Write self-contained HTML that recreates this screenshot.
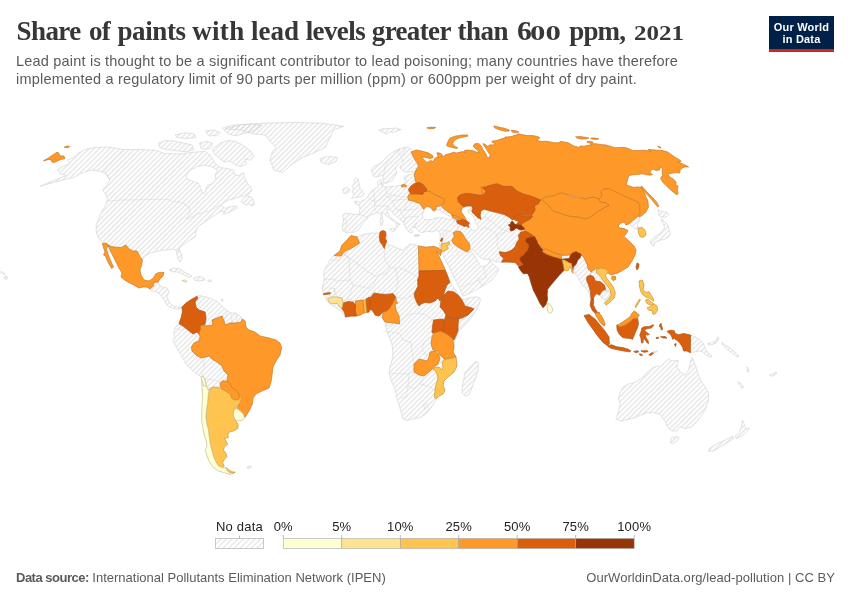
<!DOCTYPE html>
<html><head><meta charset="utf-8">
<style>
html,body{margin:0;padding:0;background:#fff;}
body{width:850px;height:600px;position:relative;overflow:hidden;font-family:"Liberation Sans",sans-serif;}
.abs{position:absolute;white-space:nowrap;}
#title{position:absolute;left:16.5px;top:16.45px;white-space:nowrap;font-size:0;font-family:"Liberation Serif",serif;font-weight:bold;color:#373737;}
#title>span{display:inline-block;white-space:nowrap;line-height:30px;text-align:left;}
#sub{left:16px;top:52px;font-size:14.5px;line-height:18px;color:#5b5b5b;letter-spacing:0.2px;}
#logo{left:769px;top:16px;width:65px;height:33px;background:#002147;border-bottom:3px solid #ce261e;color:#fff;font-weight:bold;font-size:11px;line-height:12px;text-align:center;letter-spacing:0.2px;}
#logo div{margin-top:5px;}
#src{left:16px;top:570px;font-size:13px;line-height:16px;color:#5b5b5b;letter-spacing:0px;}
#src b{letter-spacing:-0.5px;}
#lic{right:15px;top:570px;font-size:13px;line-height:16px;color:#5b5b5b;letter-spacing:0.05px;}
svg{position:absolute;left:0;top:0;}
svg text{font-family:"Liberation Sans",sans-serif;font-size:13px;fill:#222;letter-spacing:0.2px;}
</style></head><body>
<div id="title"><span style="width:72.40px;font-size:27px;letter-spacing:-0.57px">Share</span> <span style="width:28.60px;font-size:27px;letter-spacing:-0.70px">of</span> <span style="width:74.70px;font-size:27px;letter-spacing:-0.41px">paints</span> <span style="width:58.90px;font-size:27px;letter-spacing:0.33px">with</span> <span style="width:54.60px;font-size:27px;letter-spacing:-0.03px">lead</span> <span style="width:66.10px;font-size:27px;letter-spacing:-0.60px">levels</span> <span style="width:85.70px;font-size:27px;letter-spacing:-0.62px">greater</span> <span style="width:59.80px;font-size:27px;letter-spacing:-0.50px">than</span> <span style="width:52.00px;font-size:27px"><span style="display:inline-block;transform:scaleX(1.1);transform-origin:0 100%">6</span><span style="display:inline-block;font-size:20.5px;margin-left:-0.5px;transform:scaleX(1.5);transform-origin:0 100%">00</span></span> <span style="width:64.70px;font-size:27px;letter-spacing:-0.83px">ppm,</span> <span style="width:60.00px;font-size:20.5px;transform:scaleX(1.22);transform-origin:0 100%">2021</span></div>
<div id="sub" class="abs">Lead paint is thought to be a significant contributor to lead poisoning; many countries have therefore<br>implemented a regulatory limit of 90 parts per million (ppm) or 600ppm per weight of dry paint.</div>
<div id="logo" class="abs"><div>Our World<br>in Data</div></div>
<svg width="850" height="600" viewBox="0 0 850 600">
<defs>
<pattern id="hatch" patternUnits="userSpaceOnUse" width="4" height="4" patternTransform="rotate(-45 2 2)"><path d="M -1,2 l 6,0" stroke="#d2d2d2" stroke-width="0.9"/></pattern>
<pattern id="hatchL" patternUnits="userSpaceOnUse" width="17" height="17" x="0.5" y="0"><rect width="17" height="17" fill="#fff"/><g stroke="#d2d2d2" stroke-width="1.0"><line x1="1" y1="-1" x2="-1" y2="1"/><line x1="6.66667" y1="-1" x2="-1" y2="6.66667"/><line x1="12.3333" y1="-1" x2="-1" y2="12.3333"/><line x1="18" y1="-1" x2="-1" y2="18"/><line x1="23.6667" y1="-1" x2="-1" y2="23.6667"/><line x1="29.3333" y1="-1" x2="-1" y2="29.3333"/><line x1="35" y1="-1" x2="-1" y2="35"/></g></pattern>
</defs>
<!--MAP-->
<g transform="scale(0.9)" fill="url(#hatch)" stroke="#d2d2d2" stroke-width="0.7" stroke-linejoin="round">
<path d="M645.6,282.4 L648.4,284.3 L650.2,289.9 L653.0,294.6 L655.8,299.2 L657.7,302.9 L654.9,304.8 L652.1,307.6 L651.8,311.2 L654.0,316.8 L655.8,322.4 L656.8,328.0 L655.8,331.7 L654.0,324.2 L650.2,318.7 L647.4,317.8 L644.7,313.1 L641.9,307.6 L639.1,303.8 L637.2,300.1 L640.0,293.7 L641.9,289.0 L644.7,286.2Z"/>
<path d="M657.7,302.9 L660.4,302.0 L663.2,303.8 L665.1,307.6 L668.8,311.2 L672.6,315.0 L674.3,319.6 L676.2,323.3 L672.6,324.2 L672.9,321.4 L671.6,316.8 L667.0,313.1 L661.3,312.2 L659.6,307.6 L655.8,305.7Z"/>
<path d="M668.8,323.3 L672.9,322.4 L677.1,323.3 L678.1,328.0 L675.3,331.7 L671.6,333.6 L667.9,330.8 L666.6,327.0Z"/>
<path d="M625.8,284.0 L628.9,283.0 L632.7,284.0 L632.7,286.8 L626.1,287.1Z"/>
<path d="M726.1,392.4 L724.7,391.7 L728.0,390.3 L730.9,390.0 L728.9,391.7Z"/>
<path d="M767.3,372.3 L772.6,374.2 L778.1,377.9 L781.8,381.7 L782.8,386.2 L785.6,390.9 L791.1,395.6 L790.1,396.9 L784.6,394.7 L780.9,390.9 L777.1,390.0 L772.6,390.9 L767.0,391.9Z"/>
<path d="M786.4,381.7 L791.1,380.7 L795.8,377.9 L797.6,374.2 L798.9,376.4 L795.8,380.7 L791.1,383.1 L787.3,383.1Z"/>
<path d="M390.0,261.8 L385.6,266.7 L380.0,272.2 L377.8,278.9 L371.1,284.0 L366.7,288.9 L362.2,296.7 L359.6,303.3 L360.4,311.1 L357.8,320.0 L359.6,326.7 L362.2,332.2 L365.6,336.7 L370.0,340.0 L375.6,343.3 L380.0,346.7 L383.3,352.2 L390.0,351.6 L396.0,351.1 L400.0,350.0 L404.9,347.6 L410.0,346.7 L414.4,346.7 L418.9,351.1 L421.1,351.6 L424.9,353.3 L427.8,357.8 L428.9,362.2 L430.0,368.9 L433.3,376.7 L435.6,383.3 L436.7,392.2 L435.6,400.0 L433.3,407.8 L432.2,414.4 L434.4,422.2 L438.9,432.2 L441.1,442.2 L443.3,450.0 L445.6,457.8 L447.8,465.6 L452.2,467.1 L458.9,465.6 L466.7,464.0 L473.3,460.0 L478.9,453.3 L483.3,446.7 L484.4,443.3 L487.8,440.0 L492.2,437.8 L494.4,433.3 L492.2,428.9 L493.3,423.3 L497.8,418.9 L504.4,413.3 L507.8,406.7 L506.7,396.7 L503.3,391.1 L504.4,385.6 L505.6,377.8 L509.3,368.9 L513.3,364.4 L520.0,357.8 L522.3,354.9 L528.9,345.6 L532.6,338.1 L533.9,331.7 L530.7,329.8 L522.3,330.8 L515.9,332.6 L513.1,331.7 L510.6,328.3 L507.8,324.4 L504.4,320.0 L501.3,315.6 L500.0,313.9 L499.4,312.2 L497.8,307.8 L496.1,303.3 L495.0,300.6 L493.3,296.7 L490.6,290.6 L487.8,285.0 L484.9,279.6 L486.7,280.4 L489.3,284.0 L490.7,278.9 L487.8,276.0 L482.2,273.8 L473.3,274.7 L464.9,273.3 L460.0,271.6 L455.6,271.1 L452.2,273.8 L447.8,277.8 L442.2,276.0 L436.7,273.3 L432.2,271.6 L428.9,268.9 L430.0,264.4 L428.9,257.8 L425.6,256.7 L422.2,258.9 L411.1,258.9 L402.2,261.1 L396.7,263.3Z"/>
<path d="M528.9,401.1 L531.6,403.3 L531.1,411.1 L527.8,422.2 L524.4,431.1 L521.1,438.9 L516.7,440.0 L513.3,436.7 L513.8,428.9 L515.6,420.0 L516.7,413.3 L521.1,408.9 L525.6,404.4Z"/>
<path d="M461.1,192.6 L457.4,193.6 L453.7,194.4 L450.0,196.3 L448.7,198.7 L450.0,200.4 L451.9,200.0 L452.3,201.9 L450.0,202.8 L448.1,204.7 L446.3,205.6 L442.6,206.4 L438.0,206.9 L433.3,207.4 L429.7,207.9 L426.9,207.4 L424.1,206.0 L423.6,203.7 L424.1,200.9 L422.7,199.6 L420.3,200.9 L419.4,203.7 L420.3,206.0 L419.4,208.3 L416.7,209.8 L413.9,211.1 L413.9,211.1 L411.1,214.4 L409.4,217.2 L408.3,218.9 L405.6,221.7 L401.7,223.3 L400.0,225.0 L396.7,223.3 L393.3,223.9 L394.4,226.1 L398.3,227.8 L400.0,231.1 L399.4,234.4 L398.9,238.3 L391.1,237.8 L384.4,236.9 L381.7,237.8 L380.6,240.6 L381.7,243.3 L381.1,247.8 L380.0,252.2 L380.6,256.1 L383.3,257.8 L386.7,258.9 L388.9,257.8 L392.2,258.3 L396.7,256.7 L400.0,253.3 L401.7,250.0 L404.4,247.2 L407.8,243.9 L408.9,241.1 L412.2,238.9 L415.6,237.8 L418.3,236.1 L420.0,237.2 L422.2,236.7 L425.0,236.1 L427.8,238.3 L431.1,241.1 L435.0,243.9 L437.8,246.1 L440.6,248.9 L440.0,251.1 L441.1,252.8 L442.8,250.6 L441.7,248.3 L443.6,249.4 L444.7,249.1 L442.0,247.6 L438.7,245.3 L435.1,242.4 L432.0,238.9 L430.2,235.6 L430.0,232.8 L432.2,232.2 L434.4,233.9 L436.7,236.7 L440.0,240.0 L443.3,242.8 L446.7,245.6 L448.9,248.3 L450.0,251.1 L451.1,254.4 L454.4,257.8 L457.8,258.9 L458.3,256.1 L456.1,253.9 L457.8,252.2 L460.6,253.3 L460.0,250.0 L462.2,248.3 L463.3,247.8 L462.2,249.2 L461.7,253.0 L465.0,256.7 L468.8,258.6 L474.3,256.7 L479.9,257.7 L485.4,255.8 L488.8,257.7 L489.1,263.2 L488.8,268.8 L488.2,274.3 L487.8,276.0 L490.7,278.9 L490.6,280.0 L492.8,284.4 L495.6,290.0 L498.9,296.1 L501.7,302.2 L504.4,308.3 L507.8,314.4 L510.6,320.0 L512.8,325.6 L514.4,328.9 L516.7,328.3 L521.1,326.1 L527.8,322.8 L534.4,318.9 L541.1,315.0 L546.7,311.1 L550.0,306.7 L552.8,302.2 L554.2,299.4 L552.2,296.7 L548.9,294.4 L546.1,291.7 L544.4,288.9 L543.3,291.7 L541.1,294.4 L537.8,296.1 L534.4,296.7 L533.3,294.4 L531.7,291.7 L530.0,288.9 L527.8,285.6 L525.6,282.2 L523.3,279.4 L522.2,277.8 L524.4,277.2 L527.8,280.0 L531.1,283.3 L534.4,286.7 L538.9,288.3 L543.3,287.8 L546.7,288.9 L550.0,290.6 L554.4,291.1 L557.8,291.7 L572.2,283.3 L583.3,275.6 L591.1,264.4 L590.0,250.0 L590.0,235.6 L577.8,222.2 L500.0,211.1 L466.7,197.8Z M469.3,241.2 L469.9,236.6 L471.9,232.7 L473.9,230.1 L475.8,230.1 L478.7,232.0 L481.0,234.0 L483.0,235.3 L485.0,233.3 L487.6,233.3 L489.6,234.7 L493.4,236.6 L498.0,239.2 L502.0,242.4 L505.9,244.4 L507.2,245.3 L503.2,244.4 L499.3,243.8 L494.1,242.4 L488.9,241.8 L483.7,242.4 L479.8,243.8 L475.1,244.4 L471.9,243.8Z M483.7,230.1 L486.2,228.8 L490.2,228.1 L491.6,229.4 L489.6,232.0 L486.2,232.7 L484.3,232.0Z M512.4,234.0 L514.3,231.3 L518.3,229.4 L522.9,228.8 L524.9,230.1 L523.6,232.0 L520.9,232.7 L519.6,235.3 L522.2,237.2 L524.9,239.2 L526.8,242.4 L528.1,245.1 L529.4,249.0 L531.3,251.7 L530.7,254.2 L528.1,256.2 L524.2,255.6 L522.9,252.9 L522.2,249.7 L521.6,246.4 L519.0,243.8 L516.3,240.6 L513.8,237.2Z" fill-rule="evenodd"/>
<path d="M457.4,165.8 L453.7,163.4 L449.1,163.9 L444.4,165.3 L439.8,167.1 L435.2,169.9 L431.4,172.7 L427.8,176.4 L424.1,180.1 L419.4,183.3 L414.8,185.2 L412.8,187.6 L413.4,191.7 L414.8,195.3 L417.6,196.8 L421.3,195.8 L424.1,194.9 L425.4,196.3 L425.4,199.1 L426.4,201.9 L427.8,203.7 L430.1,203.2 L433.3,201.9 L436.1,200.0 L437.6,197.2 L440.2,193.6 L441.2,191.2 L439.3,188.0 L440.2,185.2 L442.6,182.4 L444.9,180.1 L446.8,178.2 L448.1,178.7 L447.7,181.0 L445.3,183.8 L444.4,186.6 L446.3,188.4 L449.1,190.2 L451.9,191.2 L455.6,190.8 L459.2,191.2 L461.1,191.7 L462.4,188.9 L464.8,185.2 L463.0,182.4 L461.6,178.7 L461.1,175.4 L458.3,172.2 L457.4,169.4Z"/>
<path d="M424.1,203.2 L426.4,202.8 L426.7,204.7 L424.6,205.1Z"/>
<path d="M420.4,144.4 L426.0,143.0 L433.4,142.7 L440.9,142.2 L445.6,144.1 L440.9,145.4 L437.2,147.2 L433.4,146.3 L429.8,149.1 L425.1,147.2Z"/>
<path d="M392.2,205.6 L394.4,202.8 L392.8,200.0 L395.6,197.8 L398.3,198.9 L397.8,201.7 L399.4,204.4 L400.0,208.9 L402.8,212.2 L404.4,215.6 L402.8,217.8 L398.9,218.9 L394.4,219.4 L390.6,220.6 L392.2,217.8 L393.3,215.0 L391.1,213.3 L392.8,210.6 L391.1,207.8Z"/>
<path d="M381.1,210.0 L385.6,208.3 L388.3,210.0 L387.8,213.3 L384.4,215.0 L381.1,214.4Z"/>
<path d="M432.8,254.4 L436.7,253.9 L440.0,253.3 L439.4,255.6 L437.2,257.2 L433.9,256.1Z"/>
<path d="M422.8,242.2 L425.0,241.7 L425.6,245.6 L425.0,250.0 L423.1,250.6 L422.2,246.7Z"/>
<path d="M423.1,237.8 L424.4,237.2 L424.7,240.6 L423.6,241.1Z"/>
<path d="M460.1,261.8 L462.8,261.2 L465.3,260.8 L464.0,262.3 L461.4,262.9Z"/>
<path d="M460.0,261.3 L463.3,260.9 L466.7,261.4 L465.0,262.4 L461.7,262.4Z"/>
<path d="M250.0,143.1 L269.4,138.3 L297.2,136.7 L325.0,136.1 L355.6,136.7 L382.0,140.2 L370.9,144.4 L366.7,152.8 L361.1,163.9 L350.0,169.4 L336.1,175.0 L325.0,182.0 L313.9,191.7 L304.2,188.9 L300.0,177.8 L302.8,168.0 L306.9,163.9 L301.3,158.3 L294.4,150.0 L280.6,148.7 L266.7,144.4Z"/>
<path d="M355.6,176.4 L363.9,173.6 L375.0,175.0 L373.6,179.1 L365.3,182.8 L356.9,180.6Z"/>
<path d="M684.3,465.9 L687.1,457.6 L689.0,448.3 L687.1,442.8 L689.0,436.2 L691.8,430.7 L697.3,427.0 L704.8,425.1 L711.2,421.3 L715.9,417.7 L719.6,413.0 L725.1,408.4 L730.8,406.6 L734.4,407.4 L738.1,402.8 L742.8,399.1 L746.6,401.0 L753.9,400.4 L752.1,407.4 L755.8,413.0 L761.3,416.8 L765.1,411.2 L766.9,402.8 L769.1,397.2 L771.0,401.9 L773.4,407.4 L775.3,414.9 L779.0,423.2 L783.7,429.8 L787.3,437.1 L787.0,446.4 L783.7,454.8 L779.9,461.3 L774.3,468.7 L768.8,474.3 L761.3,476.1 L755.8,474.3 L752.1,478.9 L746.6,478.9 L741.9,475.2 L740.0,469.7 L737.2,465.9 L733.6,460.3 L727.0,458.6 L718.7,458.6 L711.2,461.3 L705.7,464.1 L698.2,465.9 L690.8,467.8Z"/>
<path d="M746.1,486.3 L753.0,485.0 L754.9,486.3 L752.1,490.1 L747.4,492.9 L744.7,491.9Z"/>
<path d="M825.0,466.9 L826.9,471.0 L828.6,476.4 L832.7,475.9 L829.1,480.6 L823.7,484.7 L818.1,487.4 L816.8,484.7 L820.9,480.6 L823.7,475.1Z"/>
<path d="M814.0,484.7 L815.4,487.4 L808.6,491.6 L801.7,495.7 L793.4,500.7 L787.4,501.7 L788.0,498.4 L796.2,493.4 L805.8,488.8Z"/>
<path d="M819.6,424.3 L822.2,424.9 L826.4,430.3 L824.2,431.4Z"/>
<path d="M855.2,416.7 L858.0,415.6 L862.1,413.3 L863.4,414.7 L858.0,418.2Z"/>
<path d="M829.7,408.3 L831.3,408.3 L831.9,413.3 L830.6,413.3Z"/>
<path d="M801.7,380.4 L805.8,383.1 L811.3,386.4 L816.8,391.3 L820.9,395.4 L819.6,396.9 L814.0,392.8 L808.6,388.7 L803.1,383.7Z"/>
<path d="M700.0,248.3 L703.3,245.0 L707.2,242.8 L710.6,241.7 L711.1,243.9 L710.0,246.7 L708.3,249.4 L708.9,252.2 L707.2,254.4 L704.4,253.9 L702.2,251.7Z"/>
<path d="M137.6,166.1 L119.4,163.3 L105.6,163.9 L94.4,166.1 L86.1,170.9 L82.0,175.0 L75.0,177.8 L77.8,182.0 L69.4,184.7 L63.9,188.9 L66.7,193.1 L73.6,195.0 L44.4,206.9 L75.0,198.7 L82.0,197.2 L88.9,193.1 L101.3,188.9 L111.1,190.2 L118.0,193.1 L122.2,200.0 L118.0,206.9 L113.9,211.1 L118.0,216.7 L119.4,222.2 L116.7,229.1 L111.1,238.9 L106.9,250.0 L106.9,258.3 L109.8,265.3 L114.4,270.0 L133.3,283.3 L158.2,288.9 L161.1,284.4 L166.7,281.1 L175.6,278.9 L184.4,277.8 L191.1,276.7 L195.6,277.8 L197.3,286.7 L199.6,291.1 L202.2,287.8 L201.8,282.2 L198.9,276.7 L197.2,279.9 L200.0,275.2 L205.6,270.6 L211.1,266.9 L216.8,263.1 L217.7,257.6 L219.6,252.0 L225.1,248.3 L230.7,244.6 L234.3,241.8 L239.0,239.0 L244.6,235.3 L249.2,234.4 L248.3,238.1 L253.9,236.2 L259.4,233.4 L264.1,230.7 L262.2,228.8 L255.7,229.8 L250.1,231.6 L246.4,228.8 L245.6,227.9 L249.2,225.1 L253.9,222.3 L258.4,221.4 L263.1,219.6 L270.6,217.7 L276.1,215.8 L279.9,212.1 L278.9,208.4 L275.2,203.8 L271.4,196.3 L270.6,191.7 L265.0,195.4 L260.3,193.6 L259.4,188.9 L252.0,187.1 L244.6,186.1 L238.9,181.1 L233.3,172.2 L227.8,168.3 L216.7,168.9 L200.0,171.1 L183.3,170.6 L173.3,167.2 L155.6,166.1Z M206.6,195.4 L210.2,189.9 L218.6,185.2 L227.9,183.3 L237.1,186.1 L241.8,188.9 L239.0,194.4 L239.9,199.1 L236.2,203.8 L230.7,205.7 L228.8,210.2 L226.9,214.9 L224.1,214.0 L223.2,207.4 L220.4,203.8 L213.0,201.0 L208.3,199.1Z" fill-rule="evenodd"/>
<path d="M267.8,224.2 L271.4,219.6 L275.2,217.7 L278.9,218.7 L281.7,222.3 L282.7,227.0 L279.9,228.8 L276.1,227.0 L273.3,227.9 L270.6,226.0Z"/>
<path d="M236.4,165.4 L244.9,159.1 L253.2,156.0 L261.6,157.1 L269.9,161.2 L278.3,167.6 L282.4,173.8 L278.3,178.0 L272.0,176.9 L274.1,182.1 L267.9,185.3 L261.6,183.2 L255.3,179.0 L249.0,180.1 L242.8,174.9 L237.6,170.7Z"/>
<path d="M246.9,142.4 L257.3,139.3 L269.9,138.2 L282.4,137.8 L290.9,139.3 L286.7,143.4 L278.3,146.6 L269.9,148.7 L261.6,150.8 L253.2,148.7Z"/>
<path d="M175.8,159.1 L184.2,156.0 L194.7,157.1 L205.1,159.1 L213.4,161.2 L215.6,166.4 L207.2,168.6 L196.8,167.6 L186.2,166.4 L177.9,164.3Z"/>
<path d="M194.7,149.8 L205.1,147.7 L215.6,148.7 L217.7,152.9 L207.2,153.9 L196.8,152.9Z"/>
<path d="M221.8,159.1 L230.2,157.1 L236.4,159.1 L234.3,164.3 L228.1,166.4 L222.9,164.3Z"/>
<path d="M228.1,145.6 L238.6,144.6 L244.9,147.7 L240.7,150.8 L232.3,150.8Z"/>
<path d="M166.7,321.1 L171.1,317.8 L170.7,313.8 L175.6,313.3 L178.9,318.9 L185.6,320.0 L187.8,324.4 L185.6,330.0 L187.8,335.6 L192.2,340.0 L197.8,341.1 L202.2,341.1 L201.1,343.3 L195.6,343.3 L190.0,342.2 L185.6,338.9 L182.2,333.3 L177.8,326.7 L173.3,324.4 L168.9,323.3Z"/>
<path d="M187.8,300.0 L193.3,297.8 L200.0,298.9 L206.7,303.3 L213.3,306.7 L211.1,308.4 L204.4,305.6 L197.8,302.2 L191.1,301.8Z"/>
<path d="M215.6,308.9 L221.1,307.1 L226.7,308.9 L227.8,311.1 L222.2,312.2 L216.7,311.6Z"/>
<path d="M231.1,311.1 L234.7,311.1 L234.7,312.7 L231.1,312.7Z"/>
<path d="M198.9,360.0 L194.4,364.4 L192.9,370.0 L194.4,374.4 L192.2,378.9 L195.6,385.6 L201.1,394.4 L206.7,404.4 L214.4,412.2 L223.3,418.9 L225.6,417.8 L227.8,422.2 L230.0,431.1 L232.2,431.1 L236.7,430.0 L244.4,431.1 L244.4,424.4 L248.9,422.2 L254.4,423.3 L254.4,422.2 L253.3,416.7 L248.9,412.2 L246.7,406.7 L241.1,402.2 L235.6,398.9 L232.2,395.6 L227.8,396.7 L223.3,397.8 L217.8,394.4 L213.3,390.0 L212.9,385.6 L215.6,381.1 L221.1,378.9 L221.1,376.7 L217.8,372.2 L213.3,370.0 L208.9,366.7 L203.3,363.3Z"/>
<path d="M217.3,328.9 L222.2,328.4 L228.9,330.0 L237.8,333.3 L242.2,335.6 L246.7,340.0 L251.1,344.4 L256.7,347.8 L262.2,347.8 L266.7,351.1 L269.3,354.4 L267.8,357.8 L262.2,358.9 L255.6,358.9 L250.0,361.1 L248.9,356.7 L246.7,351.1 L241.1,353.3 L235.6,355.6 L236.7,361.1 L230.0,362.2 L227.8,361.1 L228.9,355.6 L227.8,347.8 L221.1,346.7 L216.7,343.3 L214.4,337.8 L215.1,334.4 L217.8,331.1Z"/>
<path d="M245.6,332.9 L247.8,332.7 L247.8,334.4 L245.8,334.4Z"/>
<path d="M274.3,518.8 L278.0,517.8 L279.9,519.1 L277.1,520.6 L274.7,520.2Z"/>
<path d="M731.1,232.8 L735.6,235.0 L740.0,235.6 L743.6,237.8 L741.1,240.6 L737.8,241.7 L734.4,240.6 L731.7,238.9Z"/>
<path d="M735.0,242.8 L737.8,245.6 L741.1,248.9 L742.8,252.2 L743.3,255.0 L745.0,260.0 L743.3,263.3 L738.9,265.6 L734.4,266.7 L730.0,268.3 L727.2,270.0 L726.7,273.3 L724.4,272.8 L722.2,268.9 L724.4,265.6 L728.3,262.8 L732.8,259.4 L736.7,256.1 L738.3,252.2 L736.7,248.3 L735.0,245.6Z"/>
<path d="M5.6,306.7 L7.8,307.2 L8.3,309.4 L6.1,310.6 L5.0,308.9Z"/>
<path d="M1.1,301.7 L2.8,302.2 L2.2,303.3 L0.9,302.9Z"/>
<path d="M3.6,303.3 L5.6,304.0 L5.1,305.1 L3.3,304.4Z"/>
</g>
<g fill="none" stroke="#d4d4d4" stroke-width="0.5">
<path d="M107.5,200 L111,201 L120,200 L140,199.8 L160,199.2 L169,199.5 L172,201.5 L180,202 L185,204 L189,208 L190,212 L188,216 L186,219 L190,218 L195,215.1 L203.4,212.6 L211.8,210.1 L218.4,205.9 L221,205.1"/>
<path d="M123.8,149.5 L103.8,171.2 L106,174 L110,180"/>
<path d="M359.6,243 L355,246 L350,249 L345,251 L345,255 L359,265 L370,273 L377,277 L378,275 L386,273 L390,267 L396,269"/>
<path d="M385,249 L384,256 L386,262 L390,267"/>
<path d="M396,269 L399,267 L418,277 L418,286"/>
<path d="M330,260 L340,260 L340,256 L345,255 L349,258 L350,280 L336,281 L333,279 L324.4,280"/>
<path d="M350,280 L353,285 L358,286 L366,288 L370,288 L374,284 L377,277"/>
<path d="M396,269 L398,280 L396,290 L393,293.6"/>
<path d="M395.6,297 L404,299 L410,296 L415,298"/>
<path d="M322,288 L330,288 L334,288 L335,294 L331,297"/>
<path d="M399.6,324 L404,318 L410,314 L418,313 L424,314 L430,318 L433.6,320"/>
<path d="M343,303 L348,299 L355.6,301 L362.4,300 L366,299 L370,298"/>
<path d="M353,285 L348,299"/>
<path d="M334,288 L337,297"/>
<path d="M383,331 L392,332 L400,334 L403,340 L411,342 L412,352 L414,364"/>
<path d="M390,373 L406,374 L414,372.4"/>
<path d="M409,374 L408,386 L406,397 L401,398.4"/>
<path d="M408,386 L414,389 L420,384 L424,376.4"/>
<path d="M420,384 L428,386 L435,390"/>
<path d="M384,326 L392,325 L398,320"/>
<path d="M423.6,405 L427,404 L428,407 L425,409 L423.6,405"/>
<path d="M429,357 L422,350 L424,342 L429,338 L432,337"/>
<path d="M175,328 L181,330 L186,328 L188,330"/>
<path d="M201,377 L203,370 L205,366 L203,360 L205,357"/>
<path d="M205,380 L210,379 L214,380 L220,382"/>
<path d="M224,321 L227,314 L226,310"/>
<path d="M231,313 L232,322 L230,323"/>
<path d="M236,313 L237,322.4"/>
<path d="M359,214.5 L368,217"/>
<path d="M343.5,219 L346,219.5 L346.5,225 L345.5,229 L345,232"/>
<path d="M367.5,197 L371,200 L374.5,201.5 L375,205 L374,208 L375.5,210.5 L376.5,212.5"/>
<path d="M386,187 L386.5,193 L384,195 L388,197 L392,196"/>
<path d="M375,205 L380,206.5 L384,205.5 L389,206.5 L389,209"/>
<path d="M386.5,193 L392,195 L398,196 L402,197 L406,196"/>
<path d="M388,197 L392,201 L398,200 L404,199 L408,200 L412,204"/>
<path d="M404,210 L410,209.5 L416,209 L419,208.2"/>
<path d="M392,201 L396,209 L400,210 L404,210 L408,200"/>
<path d="M405,218 L410,217 L416,216.5 L419,217.5"/>
<path d="M374.5,201.5 L380,200 L384,195"/>
<path d="M372.5,190 L374,194 L374.5,201.5"/>
<path d="M400,210 L402,215 L405,218 L404,223.5"/>
<path d="M400,148.8 L396.7,152.5 L392.5,156.7 L387.5,162.5 L384.6,167.5 L384.2,173.3 L382.9,176.7"/>
<path d="M402.1,160.4 L401.7,156.7 L398.3,152.5 L400,148.8"/>
<path d="M404.2,147.5 L405,150.8 L401.7,156.7"/>
<path d="M441.7,230.1 L448.4,231 L453.4,232.6"/>
<path d="M457.6,223.4 L458.4,230.1 L456.7,231.8"/>
<path d="M479.3,230.1 L485.1,227.6 L491.8,230.1 L496.8,235.1 L497.7,239.3 L496.8,245.2 L500.2,250.2 L502.2,253.5 L501.8,258.5 L502.7,261.9"/>
<path d="M481,219.3 L485.1,216.8 L491.8,221.8 L498.5,226.8 L503.5,230.1 L506.8,231 L510.2,231"/>
<path d="M496.8,235.1 L503.5,232.6 L506.8,231"/>
<path d="M453.4,243.5 L457.6,246.8 L467.6,251.8 L470.1,253.5"/>
<path d="M461.8,286.8 L471.8,283.5 L478.5,280.1 L486,277.6 L484.3,271.8 L484.3,265.9"/>
<path d="M478.5,280.1 L481.8,285.1 L483.5,286"/>
<path d="M441.4,243.8 L443.4,235.1 L448.4,231"/>
<path d="M449.2,241.8 L451.7,240.2"/>
</g>
<g stroke-linejoin="round">
<path fill="#fe9929" stroke="#fe9929" stroke-width="0.6" d="M411.2,151.9 L416.2,150 L422.5,151.2 L428.8,153.1 L432.5,155.6 L433.1,157.8 L430,158.5 L425,157.2 L421.5,157.2 L423.8,159.4 L426.9,162.5 L429.4,161.2 L431.2,160.6 L433.1,161.9 L434.4,158.8 L436.9,156.9 L438.8,157.8 L437.5,155 L436.9,152.8 L440,153.1 L442.5,155 L441.2,156.9 L443.8,156.2 L445.6,154.8 L450,153.5 L453.8,152.2 L456.2,153.1 L460,152.2 L463.1,151.5 L465,152.8 L464.4,150.6 L467.5,150 L472.5,150.6 L476.2,151.9 L479.4,153.1 L477.5,150 L475,148.1 L473.1,146.2 L474.8,143.8 L478.8,143.5 L481,145.6 L482.5,148.8 L485,152.5 L487.5,157.5 L489.4,157.8 L490.2,155 L488.1,151.9 L486.2,148.8 L483.5,145 L483.1,143.5 L486.2,145 L487.5,146.5 L490,144.8 L493.1,145 L495.6,143.8 L492.5,142.5 L491.9,141.2 L496.2,140.6 L500,139.4 L503.8,138.1 L506,137.5 L505,137.2 L511.2,136.5 L516.2,135 L518.8,133.8 L522.5,134.8 L527.5,135.6 L532.5,135.6 L537.5,136.5 L540,137.8 L536.9,140 L538.8,141 L542.5,141.5 L546.2,141.2 L550,141.9 L555,142.8 L559.4,142.8 L560,141.5 L563.8,141.9 L568.1,142.8 L571.2,144.4 L573.8,146 L577.5,146.9 L579.4,147.8 L580,146 L583.8,146.2 L587.5,145.6 L590.6,145 L591.9,146.2 L592.5,144.8 L590,144 L592.5,143.5 L597.5,144 L602.5,144.8 L605,144.8 L610,146.2 L615,147.8 L620,147.5 L625,147.5 L628.8,148.8 L632.5,150.6 L637.5,150.6 L642.5,150.2 L647.5,150.6 L651.2,151.9 L648.1,149.4 L652.5,149.8 L657.5,150.2 L662.5,150.6 L667.5,151.9 L671.2,154.4 L675,157.2 L678.8,159.4 L681.2,161.2 L678.1,161.9 L682.5,163.8 L686.2,165.6 L688.5,166.9 L685,166.9 L681.9,168.1 L680,170.6 L679.8,173.1 L676.9,172.5 L672.5,173.1 L668.8,173.8 L668.1,175 L670.6,177.5 L673.8,179.4 L676.2,182.5 L675.6,184.4 L678.1,186.2 L677.2,190 L678.1,193.1 L676.9,195 L673.1,191.9 L669.4,188.8 L665.6,185 L662.5,181.9 L660.6,178.1 L662.5,175.6 L662.2,171.9 L662.5,168.8 L660.6,166.9 L659.4,170 L656.2,170.6 L653.1,169 L650.6,170.6 L650,173.1 L652.5,174.4 L650,175.2 L646.9,174.8 L642.5,173.8 L637.5,174.4 L632.5,174.8 L628.8,175.6 L627.5,180 L626.2,185 L630,186.2 L633.8,187.5 L637.5,186.9 L641.2,187.5 L642.5,190 L644.4,193.1 L646.2,197.5 L647.5,200 L648,202 L648.4,207 L646,212 L642,215.6 L639,217 L637,214 L639,211 L640,206 L638,201 L634,203 L628,200 L620,197 L614,193 L608,189 L603,189 L601,192 L602,196 L599,199 L593,197 L586,199 L578,197 L570,195 L562,193 L559,196 L550,196.4 L547,196 L541,200 L540.3,204.1 L536.9,202.4 L530.2,199.9 L523.6,198.2 L516.9,194.9 L511.9,190.4 L503.5,190.4 L496.8,187.7 L488.5,189.9 L482.6,192 L486,194.9 L485.1,198.2 L480.1,199.4 L473.4,198.2 L465.9,197.4 L460.1,199.1 L457.6,201.6 L460,204 L465,206 L462,208 L461,212 L464,216 L467,222 L464,220 L460,218 L457,219 L454,216 L448,212 L443,208 L441,205 L444,202 L443,198 L436,195 L430,192 L424,192 L427,189 L424,185 L418,182.4 L415.6,181.9 L415,178.8 L414.4,175 L415,171.9 L416.9,168.8 L418.8,166.2 L416.9,162.5 L414.4,158.8 L412.5,155Z"/><path fill="none" stroke="#6b4a2a" stroke-opacity="0.75" stroke-width="0.35" d="M411.2,151.9 L416.2,150 L422.5,151.2 L428.8,153.1 L432.5,155.6 L433.1,157.8 L430,158.5 L425,157.2 L421.5,157.2 L423.8,159.4 L426.9,162.5 L429.4,161.2 L431.2,160.6 L433.1,161.9 L434.4,158.8 L436.9,156.9 L438.8,157.8 L437.5,155 L436.9,152.8 L440,153.1 L442.5,155 L441.2,156.9 L443.8,156.2 L445.6,154.8 L450,153.5 L453.8,152.2 L456.2,153.1 L460,152.2 L463.1,151.5 L465,152.8 L464.4,150.6 L467.5,150 L472.5,150.6 L476.2,151.9 L479.4,153.1 L477.5,150 L475,148.1 L473.1,146.2 L474.8,143.8 L478.8,143.5 L481,145.6 L482.5,148.8 L485,152.5 L487.5,157.5 L489.4,157.8 L490.2,155 L488.1,151.9 L486.2,148.8 L483.5,145 L483.1,143.5 L486.2,145 L487.5,146.5 L490,144.8 L493.1,145 L495.6,143.8 L492.5,142.5 L491.9,141.2 L496.2,140.6 L500,139.4 L503.8,138.1 L506,137.5 L505,137.2 L511.2,136.5 L516.2,135 L518.8,133.8 L522.5,134.8 L527.5,135.6 L532.5,135.6 L537.5,136.5 L540,137.8 L536.9,140 L538.8,141 L542.5,141.5 L546.2,141.2 L550,141.9 L555,142.8 L559.4,142.8 L560,141.5 L563.8,141.9 L568.1,142.8 L571.2,144.4 L573.8,146 L577.5,146.9 L579.4,147.8 L580,146 L583.8,146.2 L587.5,145.6 L590.6,145 L591.9,146.2 L592.5,144.8 L590,144 L592.5,143.5 L597.5,144 L602.5,144.8 L605,144.8 L610,146.2 L615,147.8 L620,147.5 L625,147.5 L628.8,148.8 L632.5,150.6 L637.5,150.6 L642.5,150.2 L647.5,150.6 L651.2,151.9 L648.1,149.4 L652.5,149.8 L657.5,150.2 L662.5,150.6 L667.5,151.9 L671.2,154.4 L675,157.2 L678.8,159.4 L681.2,161.2 L678.1,161.9 L682.5,163.8 L686.2,165.6 L688.5,166.9 L685,166.9 L681.9,168.1 L680,170.6 L679.8,173.1 L676.9,172.5 L672.5,173.1 L668.8,173.8 L668.1,175 L670.6,177.5 L673.8,179.4 L676.2,182.5 L675.6,184.4 L678.1,186.2 L677.2,190 L678.1,193.1 L676.9,195 L673.1,191.9 L669.4,188.8 L665.6,185 L662.5,181.9 L660.6,178.1 L662.5,175.6 L662.2,171.9 L662.5,168.8 L660.6,166.9 L659.4,170 L656.2,170.6 L653.1,169 L650.6,170.6 L650,173.1 L652.5,174.4 L650,175.2 L646.9,174.8 L642.5,173.8 L637.5,174.4 L632.5,174.8 L628.8,175.6 L627.5,180 L626.2,185 L630,186.2 L633.8,187.5 L637.5,186.9 L641.2,187.5 L642.5,190 L644.4,193.1 L646.2,197.5 L647.5,200 L648,202 L648.4,207 L646,212 L642,215.6 L639,217 L637,214 L639,211 L640,206 L638,201 L634,203 L628,200 L620,197 L614,193 L608,189 L603,189 L601,192 L602,196 L599,199 L593,197 L586,199 L578,197 L570,195 L562,193 L559,196 L550,196.4 L547,196 L541,200 L540.3,204.1 L536.9,202.4 L530.2,199.9 L523.6,198.2 L516.9,194.9 L511.9,190.4 L503.5,190.4 L496.8,187.7 L488.5,189.9 L482.6,192 L486,194.9 L485.1,198.2 L480.1,199.4 L473.4,198.2 L465.9,197.4 L460.1,199.1 L457.6,201.6 L460,204 L465,206 L462,208 L461,212 L464,216 L467,222 L464,220 L460,218 L457,219 L454,216 L448,212 L443,208 L441,205 L444,202 L443,198 L436,195 L430,192 L424,192 L427,189 L424,185 L418,182.4 L415.6,181.9 L415,178.8 L414.4,175 L415,171.9 L416.9,168.8 L418.8,166.2 L416.9,162.5 L414.4,158.8 L412.5,155Z"/>
<path fill="#fe9929" stroke="#fe9929" stroke-width="0.6" d="M481,187 L488,187 L489,193 L482,193Z"/><path fill="none" stroke="#6b4a2a" stroke-opacity="0.75" stroke-width="0.35" d="M481,187 L488,187 L489,193 L482,193Z"/>
<path fill="#fe9929" stroke="#fe9929" stroke-width="0.6" d="M446.5,145.6 L448.1,141.2 L450,138.1 L455,136.2 L462.5,135 L467.5,135 L467.8,136.2 L462.5,137.2 L457.5,138.5 L454.4,140.6 L452.5,143.8 L454.4,146.2 L457.8,147.8 L456.9,148.5 L452.5,147.5 L448.8,146.5Z"/><path fill="none" stroke="#6b4a2a" stroke-opacity="0.75" stroke-width="0.35" d="M446.5,145.6 L448.1,141.2 L450,138.1 L455,136.2 L462.5,135 L467.5,135 L467.8,136.2 L462.5,137.2 L457.5,138.5 L454.4,140.6 L452.5,143.8 L454.4,146.2 L457.8,147.8 L456.9,148.5 L452.5,147.5 L448.8,146.5Z"/>
<path fill="#fe9929" stroke="#fe9929" stroke-width="0.6" d="M426.9,127.8 L431.2,127.1 L435.6,127.5 L433.8,128.5 L429.4,128.8Z"/><path fill="none" stroke="#6b4a2a" stroke-opacity="0.75" stroke-width="0.35" d="M426.9,127.8 L431.2,127.1 L435.6,127.5 L433.8,128.5 L429.4,128.8Z"/>
<path fill="#fe9929" stroke="#fe9929" stroke-width="0.6" d="M493.8,126 L497.5,126.6 L500,127.5 L503.8,128.1 L508.8,129.8 L509.4,131 L505,131.2 L500,130 L495,128.1Z"/><path fill="none" stroke="#6b4a2a" stroke-opacity="0.75" stroke-width="0.35" d="M493.8,126 L497.5,126.6 L500,127.5 L503.8,128.1 L508.8,129.8 L509.4,131 L505,131.2 L500,130 L495,128.1Z"/>
<path fill="#fe9929" stroke="#fe9929" stroke-width="0.6" d="M511.2,130.2 L515,130.6 L518.8,131.9 L517.5,132.8 L512.5,132.2Z"/><path fill="none" stroke="#6b4a2a" stroke-opacity="0.75" stroke-width="0.35" d="M511.2,130.2 L515,130.6 L518.8,131.9 L517.5,132.8 L512.5,132.2Z"/>
<path fill="#fe9929" stroke="#fe9929" stroke-width="0.6" d="M575.6,136.9 L580,136.5 L586.2,137.5 L588.8,138.1 L586.2,139 L581.2,139 L576.9,138.1Z"/><path fill="none" stroke="#6b4a2a" stroke-opacity="0.75" stroke-width="0.35" d="M575.6,136.9 L580,136.5 L586.2,137.5 L588.8,138.1 L586.2,139 L581.2,139 L576.9,138.1Z"/>
<path fill="#fe9929" stroke="#fe9929" stroke-width="0.6" d="M590.6,138.1 L595,138.1 L598.8,138.8 L596.2,139.4 L591.9,139Z"/><path fill="none" stroke="#6b4a2a" stroke-opacity="0.75" stroke-width="0.35" d="M590.6,138.1 L595,138.1 L598.8,138.8 L596.2,139.4 L591.9,139Z"/>
<path fill="#fe9929" stroke="#fe9929" stroke-width="0.6" d="M586.9,141.5 L590,141.2 L593.1,142.2 L590.6,143.1 L587.5,142.5Z"/><path fill="none" stroke="#6b4a2a" stroke-opacity="0.75" stroke-width="0.35" d="M586.9,141.5 L590,141.2 L593.1,142.2 L590.6,143.1 L587.5,142.5Z"/>
<path fill="#fe9929" stroke="#fe9929" stroke-width="0.6" d="M657.8,146.2 L660,146.9 L661,148.1 L658.8,147.5Z"/><path fill="none" stroke="#6b4a2a" stroke-opacity="0.75" stroke-width="0.35" d="M657.8,146.2 L660,146.9 L661,148.1 L658.8,147.5Z"/>
<path fill="#fe9929" stroke="#fe9929" stroke-width="0.6" d="M641,186.2 L643.1,187.5 L646.2,191.2 L650,195 L653.8,198.8 L656.9,202.5 L658.8,206.2 L657.8,206.9 L655,203.8 L652.5,200.6 L649.4,196.9 L645.6,193.1 L642.5,189.4Z"/><path fill="none" stroke="#6b4a2a" stroke-opacity="0.75" stroke-width="0.35" d="M641,186.2 L643.1,187.5 L646.2,191.2 L650,195 L653.8,198.8 L656.9,202.5 L658.8,206.2 L657.8,206.9 L655,203.8 L652.5,200.6 L649.4,196.9 L645.6,193.1 L642.5,189.4Z"/>
<path fill="#fe9929" stroke="#fe9929" stroke-width="0.6" d="M43.5,160.8 L48,158.2 L57,152.2 L58.5,152.8 L60,156 L64,156 L64.8,158.5 L60,159.8 L54,162.5 L52.2,162.2 L50.5,159.5 L48.5,159.5Z"/><path fill="none" stroke="#6b4a2a" stroke-opacity="0.75" stroke-width="0.35" d="M43.5,160.8 L48,158.2 L57,152.2 L58.5,152.8 L60,156 L64,156 L64.8,158.5 L60,159.8 L54,162.5 L52.2,162.2 L50.5,159.5 L48.5,159.5Z"/>
<path fill="#fe9929" stroke="#fe9929" stroke-width="0.6" d="M64.2,147.2 L67,146 L69.8,146.5 L67.5,147.8Z"/><path fill="none" stroke="#6b4a2a" stroke-opacity="0.75" stroke-width="0.35" d="M64.2,147.2 L67,146 L69.8,146.5 L67.5,147.8Z"/>
<path fill="#fe9929" stroke="#fe9929" stroke-width="0.6" d="M541,199.4 L546,203 L550,207 L553,211 L560,213 L568,216 L578,217 L586,219 L592,216 L597,212 L602,209 L609,205 L606,203 L600,202 L599,199 L602,196 L601,192 L603,189.4 L609,188.6 L616,192 L624,196 L632,199.4 L638,202 L639.6,207 L640,213 L638,216 L636,218 L632,221 L629,224 L626,225 L624,222 L621,223 L618,226 L620,228 L624,228.6 L628,230.6 L626,234 L624,236.6 L629,241 L634,246 L636,250 L635,255 L632,261 L628,267 L623,270 L618,273 L614,274 L611,275 L608,273 L604,274 L601,270 L597,268 L594,270 L591,272 L588,269 L587,264 L585,260 L583,256 L580,255 L575,253 L570,255 L563,255.4 L558,254 L550,252 L544,249 L539,245 L536,241 L534,237.4 L530,235 L526,233 L524,230 L524.6,228.8 L522.9,226.7 L520.4,225.4 L521.2,224.2 L522.5,222.9 L524.6,221.8 L526.2,220.8 L528.8,219.6 L530.8,218.3 L532.1,216.7 L531.2,215.4 L532.1,213.8 L529.6,210.8 L532.9,209.6 L533.8,206.7 L536.2,205 L537.9,202.5 L540,200Z"/><path fill="none" stroke="#6b4a2a" stroke-opacity="0.75" stroke-width="0.35" d="M541,199.4 L546,203 L550,207 L553,211 L560,213 L568,216 L578,217 L586,219 L592,216 L597,212 L602,209 L609,205 L606,203 L600,202 L599,199 L602,196 L601,192 L603,189.4 L609,188.6 L616,192 L624,196 L632,199.4 L638,202 L639.6,207 L640,213 L638,216 L636,218 L632,221 L629,224 L626,225 L624,222 L621,223 L618,226 L620,228 L624,228.6 L628,230.6 L626,234 L624,236.6 L629,241 L634,246 L636,250 L635,255 L632,261 L628,267 L623,270 L618,273 L614,274 L611,275 L608,273 L604,274 L601,270 L597,268 L594,270 L591,272 L588,269 L587,264 L585,260 L583,256 L580,255 L575,253 L570,255 L563,255.4 L558,254 L550,252 L544,249 L539,245 L536,241 L534,237.4 L530,235 L526,233 L524,230 L524.6,228.8 L522.9,226.7 L520.4,225.4 L521.2,224.2 L522.5,222.9 L524.6,221.8 L526.2,220.8 L528.8,219.6 L530.8,218.3 L532.1,216.7 L531.2,215.4 L532.1,213.8 L529.6,210.8 L532.9,209.6 L533.8,206.7 L536.2,205 L537.9,202.5 L540,200Z"/>
<path fill="#d95f0e" stroke="#d95f0e" stroke-width="0.6" d="M637,263 L639,264 L638.4,268 L637,270 L636,267Z"/><path fill="none" stroke="#6b4a2a" stroke-opacity="0.75" stroke-width="0.35" d="M637,263 L639,264 L638.4,268 L637,270 L636,267Z"/>
<path fill="#fe9929" stroke="#fe9929" stroke-width="0.6" d="M612.4,276 L615.6,276.6 L615.6,279.4 L613,280.6 L611.4,278.6Z"/><path fill="none" stroke="#6b4a2a" stroke-opacity="0.75" stroke-width="0.35" d="M612.4,276 L615.6,276.6 L615.6,279.4 L613,280.6 L611.4,278.6Z"/>
<path fill="#fec44f" stroke="#fec44f" stroke-width="0.6" d="M638,228 L642,227.4 L645,230 L646,235 L643,237.4 L640,236.6 L638.4,233Z"/><path fill="none" stroke="#6b4a2a" stroke-opacity="0.75" stroke-width="0.35" d="M638,228 L642,227.4 L645,230 L646,235 L643,237.4 L640,236.6 L638.4,233Z"/>
<path fill="#fe9929" stroke="#fe9929" stroke-width="0.6" d="M541,199.4 L546,197 L553,196 L559,193.4 L563,193 L570,196 L578,198 L586,199 L593,197 L599,199 L600,202 L606,203 L609,205 L602,209 L597,212 L592,216 L586,219 L578,217 L568,216 L560,213 L553,211 L550,207 L546,203Z"/><path fill="none" stroke="#6b4a2a" stroke-opacity="0.75" stroke-width="0.35" d="M541,199.4 L546,197 L553,196 L559,193.4 L563,193 L570,196 L578,198 L586,199 L593,197 L599,199 L600,202 L606,203 L609,205 L602,209 L597,212 L592,216 L586,219 L578,217 L568,216 L560,213 L553,211 L550,207 L546,203Z"/>
<path fill="#993404" stroke="#993404" stroke-width="0.6" d="M525.9,238.4 L530.1,236.7 L534.3,236.4 L536.8,240.9 L537.6,243.4 L540.1,246.7 L543.5,250.1 L542.6,251.7 L546.8,254.2 L553.5,256.7 L560.2,258.4 L561.8,259.2 L562.7,259.2 L569.4,258.4 L570.2,255.9 L571.9,253.4 L576,251.7 L581,254.2 L580.2,257.6 L577.7,260.1 L576,264.3 L573.5,266.8 L572.7,270.1 L571.9,266.8 L571.5,263.8 L568.5,262.6 L564.3,260.1 L562.2,260.1 L563.5,265.1 L564.3,270.1 L561.8,272.6 L558.5,276 L554.3,281 L550.1,286 L547.6,289.3 L547.1,295.2 L547.6,299.3 L546,304.4 L543.1,307.7 L540.1,303.5 L536.8,296.8 L533.4,290.2 L530.9,282.6 L529.3,276.8 L527.6,273.4 L523.4,273.8 L520.9,270.9 L518.4,266.8 L522.6,265.1 L523.1,264.3 L520.1,260.9 L519.7,257.6 L523.4,255.1 L527.6,250.1 L528.8,245 L525.4,241.7Z"/><path fill="none" stroke="#6b4a2a" stroke-opacity="0.75" stroke-width="0.35" d="M525.9,238.4 L530.1,236.7 L534.3,236.4 L536.8,240.9 L537.6,243.4 L540.1,246.7 L543.5,250.1 L542.6,251.7 L546.8,254.2 L553.5,256.7 L560.2,258.4 L561.8,259.2 L562.7,259.2 L569.4,258.4 L570.2,255.9 L571.9,253.4 L576,251.7 L581,254.2 L580.2,257.6 L577.7,260.1 L576,264.3 L573.5,266.8 L572.7,270.1 L571.9,266.8 L571.5,263.8 L568.5,262.6 L564.3,260.1 L562.2,260.1 L563.5,265.1 L564.3,270.1 L561.8,272.6 L558.5,276 L554.3,281 L550.1,286 L547.6,289.3 L547.1,295.2 L547.6,299.3 L546,304.4 L543.1,307.7 L540.1,303.5 L536.8,296.8 L533.4,290.2 L530.9,282.6 L529.3,276.8 L527.6,273.4 L523.4,273.8 L520.9,270.9 L518.4,266.8 L522.6,265.1 L523.1,264.3 L520.1,260.9 L519.7,257.6 L523.4,255.1 L527.6,250.1 L528.8,245 L525.4,241.7Z"/>
<path fill="#d95f0e" stroke="#d95f0e" stroke-width="0.6" d="M520.9,232 L525.9,231.3 L531.8,234.7 L533.8,236.4 L530.1,237 L525.9,238.4 L525.4,241.7 L528.8,245 L527.6,250.1 L523.4,255.1 L519.7,257.6 L520.1,260.9 L523.1,264.3 L518.4,265.9 L515.1,262.6 L508.4,262.1 L501.7,262.1 L503.7,258.4 L500.4,255.4 L499.2,251.7 L505.9,252.6 L511.7,250.1 L515.1,246.7 L516.7,242.5 L519.2,239.2 L518.4,235.4Z"/><path fill="none" stroke="#6b4a2a" stroke-opacity="0.75" stroke-width="0.35" d="M520.9,232 L525.9,231.3 L531.8,234.7 L533.8,236.4 L530.1,237 L525.9,238.4 L525.4,241.7 L528.8,245 L527.6,250.1 L523.4,255.1 L519.7,257.6 L520.1,260.9 L523.1,264.3 L518.4,265.9 L515.1,262.6 L508.4,262.1 L501.7,262.1 L503.7,258.4 L500.4,255.4 L499.2,251.7 L505.9,252.6 L511.7,250.1 L515.1,246.7 L516.7,242.5 L519.2,239.2 L518.4,235.4Z"/>
<path fill="#fe9929" stroke="#fe9929" stroke-width="0.6" d="M543.1,249.7 L546,248.7 L551.8,251.7 L557.7,254.2 L561.5,255.4 L561.8,259.2 L560.2,258.4 L553.5,256.7 L546.8,254.2 L542.6,251.7Z"/><path fill="none" stroke="#6b4a2a" stroke-opacity="0.75" stroke-width="0.35" d="M543.1,249.7 L546,248.7 L551.8,251.7 L557.7,254.2 L561.5,255.4 L561.8,259.2 L560.2,258.4 L553.5,256.7 L546.8,254.2 L542.6,251.7Z"/>
<path fill="#fec44f" stroke="#fec44f" stroke-width="0.6" d="M562.2,260.1 L564.3,260.1 L568.5,262.6 L571.5,263.8 L571.9,266.8 L572.7,270.1 L573.2,273.4 L571.9,271.8 L571,268.4 L569.9,266.8 L568.5,270.4 L566,270.9 L564.3,270.1 L563.5,265.1Z"/><path fill="none" stroke="#6b4a2a" stroke-opacity="0.75" stroke-width="0.35" d="M562.2,260.1 L564.3,260.1 L568.5,262.6 L571.5,263.8 L571.9,266.8 L572.7,270.1 L573.2,273.4 L571.9,271.8 L571,268.4 L569.9,266.8 L568.5,270.4 L566,270.9 L564.3,270.1 L563.5,265.1Z"/>
<path fill="#ffffd4" stroke="#ffffd4" stroke-width="0.6" d="M548.1,303.2 L550.1,304.4 L552.6,308.5 L552.1,311.9 L549.8,313.5 L547.6,311 L547.1,306.9Z"/><path fill="none" stroke="#6b4a2a" stroke-opacity="0.75" stroke-width="0.35" d="M548.1,303.2 L550.1,304.4 L552.6,308.5 L552.1,311.9 L549.8,313.5 L547.6,311 L547.1,306.9Z"/>
<path fill="#d95f0e" stroke="#d95f0e" stroke-width="0.6" d="M586.9,276.8 L590.2,275.1 L593.6,276.8 L595.2,281 L600.3,281.8 L604.4,285.1 L605.6,289.3 L601.9,291 L599.4,295.2 L596.9,293.5 L594.4,296 L592.7,301 L592.2,305.2 L594.4,308.5 L596.9,311.9 L599.4,312.7 L598.6,314.4 L595.2,313.5 L592.2,310.2 L590.2,305.2 L591.1,298.5 L590.2,290.2 L588.6,285.1 L586.6,280.1Z"/><path fill="none" stroke="#6b4a2a" stroke-opacity="0.75" stroke-width="0.35" d="M586.9,276.8 L590.2,275.1 L593.6,276.8 L595.2,281 L600.3,281.8 L604.4,285.1 L605.6,289.3 L601.9,291 L599.4,295.2 L596.9,293.5 L594.4,296 L592.7,301 L592.2,305.2 L594.4,308.5 L596.9,311.9 L599.4,312.7 L598.6,314.4 L595.2,313.5 L592.2,310.2 L590.2,305.2 L591.1,298.5 L590.2,290.2 L588.6,285.1 L586.6,280.1Z"/>
<path fill="#fec44f" stroke="#fec44f" stroke-width="0.6" d="M596.1,269.8 L600.3,268.1 L605.3,268.8 L608.6,271.8 L606.9,273.4 L605.3,275.1 L606.9,278.5 L610.3,282.6 L613.6,287.6 L615.3,292.7 L614.5,297.7 L610.3,301.8 L606.1,305.2 L604.4,302.7 L608.6,299.3 L611.1,295.2 L610.3,290.2 L606.9,285.1 L603.6,281 L601.1,277.6 L598.6,274.3 L596.6,272.6Z"/><path fill="none" stroke="#6b4a2a" stroke-opacity="0.75" stroke-width="0.35" d="M596.1,269.8 L600.3,268.1 L605.3,268.8 L608.6,271.8 L606.9,273.4 L605.3,275.1 L606.9,278.5 L610.3,282.6 L613.6,287.6 L615.3,292.7 L614.5,297.7 L610.3,301.8 L606.1,305.2 L604.4,302.7 L608.6,299.3 L611.1,295.2 L610.3,290.2 L606.9,285.1 L603.6,281 L601.1,277.6 L598.6,274.3 L596.6,272.6Z"/>
<path fill="#d95f0e" stroke="#d95f0e" stroke-width="0.6" d="M584,315.6 L589,314.4 L595,319 L600,325 L605,331 L609,337 L609.4,344 L607,345.4 L603,342.4 L598,336.4 L593,329.4 L588,322.4Z"/><path fill="none" stroke="#6b4a2a" stroke-opacity="0.75" stroke-width="0.35" d="M584,315.6 L589,314.4 L595,319 L600,325 L605,331 L609,337 L609.4,344 L607,345.4 L603,342.4 L598,336.4 L593,329.4 L588,322.4Z"/>
<path fill="#d95f0e" stroke="#d95f0e" stroke-width="0.6" d="M607.6,345.5 L611.7,344.8 L616.8,346.8 L622.6,347.6 L628.4,349.3 L631,351 L629.3,351.8 L623.4,351 L617.6,349.8 L611.7,348.5 L608.4,347.1Z"/><path fill="none" stroke="#6b4a2a" stroke-opacity="0.75" stroke-width="0.35" d="M607.6,345.5 L611.7,344.8 L616.8,346.8 L622.6,347.6 L628.4,349.3 L631,351 L629.3,351.8 L623.4,351 L617.6,349.8 L611.7,348.5 L608.4,347.1Z"/>
<path fill="#d95f0e" stroke="#d95f0e" stroke-width="0.6" d="M633.8,351.5 L637.6,350.7 L638.8,351.8 L636,352.8Z"/><path fill="none" stroke="#6b4a2a" stroke-opacity="0.75" stroke-width="0.35" d="M633.8,351.5 L637.6,350.7 L638.8,351.8 L636,352.8Z"/>
<path fill="#d95f0e" stroke="#d95f0e" stroke-width="0.6" d="M641,351 L646.8,350.5 L648.2,351.5 L644.3,352.3Z"/><path fill="none" stroke="#6b4a2a" stroke-opacity="0.75" stroke-width="0.35" d="M641,351 L646.8,350.5 L648.2,351.5 L644.3,352.3Z"/>
<path fill="#d95f0e" stroke="#d95f0e" stroke-width="0.6" d="M639.3,353.8 L641.8,354.3 L642.6,355.5 L640.1,355.2Z"/><path fill="none" stroke="#6b4a2a" stroke-opacity="0.75" stroke-width="0.35" d="M639.3,353.8 L641.8,354.3 L642.6,355.5 L640.1,355.2Z"/>
<path fill="#d95f0e" stroke="#d95f0e" stroke-width="0.6" d="M648.8,354.8 L651.8,352.7 L653.5,353.2 L651,355.5Z"/><path fill="none" stroke="#6b4a2a" stroke-opacity="0.75" stroke-width="0.35" d="M648.8,354.8 L651.8,352.7 L653.5,353.2 L651,355.5Z"/>
<path fill="#d95f0e" stroke="#d95f0e" stroke-width="0.6" d="M592.5,298.4 L591.7,303.4 L590.9,306.7 L593.4,310.1 L595.9,312.6 L596.7,311.7 L595,308.4 L593.4,305 L593.7,300Z"/><path fill="none" stroke="#6b4a2a" stroke-opacity="0.75" stroke-width="0.35" d="M592.5,298.4 L591.7,303.4 L590.9,306.7 L593.4,310.1 L595.9,312.6 L596.7,311.7 L595,308.4 L593.4,305 L593.7,300Z"/>
<path fill="#fe9929" stroke="#fe9929" stroke-width="0.6" d="M595.9,312.6 L598.4,312.6 L600.9,315.1 L603.4,319.2 L605.1,324.3 L604.2,325.9 L601.7,324.3 L599.2,320.9 L596.7,316.7 L595.4,314.2Z"/><path fill="none" stroke="#6b4a2a" stroke-opacity="0.75" stroke-width="0.35" d="M595.9,312.6 L598.4,312.6 L600.9,315.1 L603.4,319.2 L605.1,324.3 L604.2,325.9 L601.7,324.3 L599.2,320.9 L596.7,316.7 L595.4,314.2Z"/>
<path fill="#d95f0e" stroke="#d95f0e" stroke-width="0.6" d="M616.8,325.1 L620.1,326.8 L625.1,325.1 L630.1,321.8 L633.5,318.4 L637.6,318.4 L638.5,323.4 L637.6,327.6 L636,330.9 L634.3,335.1 L632.6,339.3 L630.1,338.5 L625.9,338.1 L622.6,337.6 L619.3,334.3 L617.1,330.1Z"/><path fill="none" stroke="#6b4a2a" stroke-opacity="0.75" stroke-width="0.35" d="M616.8,325.1 L620.1,326.8 L625.1,325.1 L630.1,321.8 L633.5,318.4 L637.6,318.4 L638.5,323.4 L637.6,327.6 L636,330.9 L634.3,335.1 L632.6,339.3 L630.1,338.5 L625.9,338.1 L622.6,337.6 L619.3,334.3 L617.1,330.1Z"/>
<path fill="#fe9929" stroke="#fe9929" stroke-width="0.6" d="M618.1,324.8 L621.8,322.6 L626.8,319.2 L630.1,316.7 L631.8,313.4 L634.3,310.9 L637.6,313.4 L639.3,315.1 L637.6,317.6 L637.6,318.4 L633.5,318.4 L630.1,321.8 L625.1,325.1 L620.1,326.8 L616.8,325.1Z"/><path fill="none" stroke="#6b4a2a" stroke-opacity="0.75" stroke-width="0.35" d="M618.1,324.8 L621.8,322.6 L626.8,319.2 L630.1,316.7 L631.8,313.4 L634.3,310.9 L637.6,313.4 L639.3,315.1 L637.6,317.6 L637.6,318.4 L633.5,318.4 L630.1,321.8 L625.1,325.1 L620.1,326.8 L616.8,325.1Z"/>
<path fill="#d95f0e" stroke="#d95f0e" stroke-width="0.6" d="M641.8,328.1 L644.3,326.8 L649.3,326.4 L653.2,324.8 L653.8,325.6 L651,328.1 L646.8,328.8 L644.3,330.1 L646.8,332.6 L649.3,334.3 L647.7,335.1 L645.2,334.3 L646,337.6 L648.2,341 L648.5,343.5 L646.8,342.6 L644.8,339.3 L643.5,338.5 L643.1,342.6 L641.5,343.1 L641,338.5 L639.8,335.1 L641,331.8Z"/><path fill="none" stroke="#6b4a2a" stroke-opacity="0.75" stroke-width="0.35" d="M641.8,328.1 L644.3,326.8 L649.3,326.4 L653.2,324.8 L653.8,325.6 L651,328.1 L646.8,328.8 L644.3,330.1 L646.8,332.6 L649.3,334.3 L647.7,335.1 L645.2,334.3 L646,337.6 L648.2,341 L648.5,343.5 L646.8,342.6 L644.8,339.3 L643.5,338.5 L643.1,342.6 L641.5,343.1 L641,338.5 L639.8,335.1 L641,331.8Z"/>
<path fill="#d95f0e" stroke="#d95f0e" stroke-width="0.6" d="M659.9,324.3 L661.2,323.4 L661.9,326.8 L662.7,329.3 L661.2,330.1 L660.9,327.6 L659.5,326.8Z"/><path fill="none" stroke="#6b4a2a" stroke-opacity="0.75" stroke-width="0.35" d="M659.9,324.3 L661.2,323.4 L661.9,326.8 L662.7,329.3 L661.2,330.1 L660.9,327.6 L659.5,326.8Z"/>
<path fill="#d95f0e" stroke="#d95f0e" stroke-width="0.6" d="M656,337.6 L658.5,337.1 L658.2,338.5 L656.2,338.5Z"/><path fill="none" stroke="#6b4a2a" stroke-opacity="0.75" stroke-width="0.35" d="M656,337.6 L658.5,337.1 L658.2,338.5 L656.2,338.5Z"/>
<path fill="#d95f0e" stroke="#d95f0e" stroke-width="0.6" d="M660.5,336.8 L665.2,336.5 L666.9,338.1 L663.5,338.1Z"/><path fill="none" stroke="#6b4a2a" stroke-opacity="0.75" stroke-width="0.35" d="M660.5,336.8 L665.2,336.5 L666.9,338.1 L663.5,338.1Z"/>
<path fill="#d95f0e" stroke="#d95f0e" stroke-width="0.6" d="M666.9,331.4 L671,330.1 L674.4,330.9 L675.2,333.4 L678.6,334.8 L683.6,333.4 L690.6,335.1 L690.3,352.7 L686.9,351 L683.6,351 L682.7,347.6 L680.2,343.5 L677.7,341 L674.4,338.5 L672.7,339.3 L671.5,336 L669.4,333.4Z"/><path fill="none" stroke="#6b4a2a" stroke-opacity="0.75" stroke-width="0.35" d="M666.9,331.4 L671,330.1 L674.4,330.9 L675.2,333.4 L678.6,334.8 L683.6,333.4 L690.6,335.1 L690.3,352.7 L686.9,351 L683.6,351 L682.7,347.6 L680.2,343.5 L677.7,341 L674.4,338.5 L672.7,339.3 L671.5,336 L669.4,333.4Z"/>
<path fill="#d95f0e" stroke="#d95f0e" stroke-width="0.6" d="M674.4,344.3 L676.1,343.5 L675.6,346.5Z"/><path fill="none" stroke="#6b4a2a" stroke-opacity="0.75" stroke-width="0.35" d="M674.4,344.3 L676.1,343.5 L675.6,346.5Z"/>
<path fill="#fec44f" stroke="#fec44f" stroke-width="0.6" d="M639,281 L642.4,280 L644,285 L643,290 L646,292.4 L649,291.6 L651,295 L653,298 L654,301 L651.6,300 L649,298 L646,297 L643,295 L641,292 L639.6,287Z"/><path fill="none" stroke="#6b4a2a" stroke-opacity="0.75" stroke-width="0.35" d="M639,281 L642.4,280 L644,285 L643,290 L646,292.4 L649,291.6 L651,295 L653,298 L654,301 L651.6,300 L649,298 L646,297 L643,295 L641,292 L639.6,287Z"/>
<path fill="#fec44f" stroke="#fec44f" stroke-width="0.6" d="M645.6,300 L648,299 L651,302 L653.6,303.6 L652.4,305.6 L649,304.4 L646.4,303Z"/><path fill="none" stroke="#6b4a2a" stroke-opacity="0.75" stroke-width="0.35" d="M645.6,300 L648,299 L651,302 L653.6,303.6 L652.4,305.6 L649,304.4 L646.4,303Z"/>
<path fill="#fec44f" stroke="#fec44f" stroke-width="0.6" d="M647,308 L651,306 L654,304 L657,306 L657.6,310 L655.6,313.6 L653,314.4 L652,310.4 L649,310.4Z"/><path fill="none" stroke="#6b4a2a" stroke-opacity="0.75" stroke-width="0.35" d="M647,308 L651,306 L654,304 L657,306 L657.6,310 L655.6,313.6 L653,314.4 L652,310.4 L649,310.4Z"/>
<path fill="#fec44f" stroke="#fec44f" stroke-width="0.6" d="M635,307 L637,303 L639.6,299 L640.4,300 L638,304 L636,307.6Z"/><path fill="none" stroke="#6b4a2a" stroke-opacity="0.75" stroke-width="0.35" d="M635,307 L637,303 L639.6,299 L640.4,300 L638,304 L636,307.6Z"/>
<path fill="#d95f0e" stroke="#d95f0e" stroke-width="0.6" d="M457.6,197.6 L460.1,195 L465.9,193.4 L473.4,194.2 L480.1,195.4 L485.1,194.2 L486,190.9 L482.6,188 L488.5,185.9 L496.8,183.7 L503.5,186.4 L511.9,186.4 L516.9,190.9 L523.6,194.2 L530.2,195.9 L536.9,198.4 L540.3,200.1 L538.6,203.4 L534.4,205.9 L535.2,210.1 L532.2,214.3 L528.6,215.1 L523.6,214.8 L518.5,215.1 L513.5,217.6 L512.7,220.1 L508.5,216.8 L503.5,214.3 L496.8,212.6 L490.1,210.9 L484.3,209.2 L481,210.9 L480.1,215.1 L481,219.3 L477.6,217.6 L474.3,214.3 L471.8,211.8 L472.6,208.4 L471.8,205.9 L467.6,205.9 L463.4,206.7 L460.9,204.2 L458.4,201.7Z"/><path fill="none" stroke="#6b4a2a" stroke-opacity="0.75" stroke-width="0.35" d="M457.6,197.6 L460.1,195 L465.9,193.4 L473.4,194.2 L480.1,195.4 L485.1,194.2 L486,190.9 L482.6,188 L488.5,185.9 L496.8,183.7 L503.5,186.4 L511.9,186.4 L516.9,190.9 L523.6,194.2 L530.2,195.9 L536.9,198.4 L540.3,200.1 L538.6,203.4 L534.4,205.9 L535.2,210.1 L532.2,214.3 L528.6,215.1 L523.6,214.8 L518.5,215.1 L513.5,217.6 L512.7,220.1 L508.5,216.8 L503.5,214.3 L496.8,212.6 L490.1,210.9 L484.3,209.2 L481,210.9 L480.1,215.1 L481,219.3 L477.6,217.6 L474.3,214.3 L471.8,211.8 L472.6,208.4 L471.8,205.9 L467.6,205.9 L463.4,206.7 L460.9,204.2 L458.4,201.7Z"/>
<path fill="#d95f0e" stroke="#d95f0e" stroke-width="0.6" d="M512.9,217.9 L515,216.2 L518.3,215.2 L523.3,215.4 L527.5,215.7 L531.7,215.4 L532.5,216.7 L531.2,218.3 L529.2,219.6 L526.7,220.8 L525,221.8 L522.9,222.9 L521.7,224.2 L521,225.4 L518.3,225 L515.8,224.8 L517.9,222.5 L518.2,221 L515.8,220.4 L513.8,219.6Z"/><path fill="none" stroke="#6b4a2a" stroke-opacity="0.75" stroke-width="0.35" d="M512.9,217.9 L515,216.2 L518.3,215.2 L523.3,215.4 L527.5,215.7 L531.7,215.4 L532.5,216.7 L531.2,218.3 L529.2,219.6 L526.7,220.8 L525,221.8 L522.9,222.9 L521.7,224.2 L521,225.4 L518.3,225 L515.8,224.8 L517.9,222.5 L518.2,221 L515.8,220.4 L513.8,219.6Z"/>
<path fill="#993404" stroke="#993404" stroke-width="0.6" d="M508.3,225 L510.4,224.2 L511.2,221.8 L512.9,221.5 L513.8,223.3 L515.8,224.8 L518.3,225 L521,225.4 L522.9,226.7 L524.6,228.8 L523.3,229.8 L521.2,230 L519.2,229.6 L517.9,228.8 L516.2,227.9 L515,229.2 L513.3,230.4 L510.8,231 L510,229.2 L510.4,227.1Z"/><path fill="none" stroke="#6b4a2a" stroke-opacity="0.75" stroke-width="0.35" d="M508.3,225 L510.4,224.2 L511.2,221.8 L512.9,221.5 L513.8,223.3 L515.8,224.8 L518.3,225 L521,225.4 L522.9,226.7 L524.6,228.8 L523.3,229.8 L521.2,230 L519.2,229.6 L517.9,228.8 L516.2,227.9 L515,229.2 L513.3,230.4 L510.8,231 L510,229.2 L510.4,227.1Z"/>
<path fill="#fe9929" stroke="#fe9929" stroke-width="0.6" d="M451.7,215.1 L455.1,215.6 L459.2,217.6 L462.6,218.8 L463.4,220.4 L460.9,220.9 L457.6,220.1 L455.1,218.8 L452.6,217.6Z"/><path fill="none" stroke="#6b4a2a" stroke-opacity="0.75" stroke-width="0.35" d="M451.7,215.1 L455.1,215.6 L459.2,217.6 L462.6,218.8 L463.4,220.4 L460.9,220.9 L457.6,220.1 L455.1,218.8 L452.6,217.6Z"/>
<path fill="#d95f0e" stroke="#d95f0e" stroke-width="0.6" d="M456.4,220.9 L460.9,220.1 L463.4,219.8 L466.4,220.9 L469.4,223.1 L468.1,225.1 L468.8,227.5 L466.4,226 L464.2,226.5 L460.9,224.8 L457.6,223.4Z"/><path fill="none" stroke="#6b4a2a" stroke-opacity="0.75" stroke-width="0.35" d="M456.4,220.9 L460.9,220.1 L463.4,219.8 L466.4,220.9 L469.4,223.1 L468.1,225.1 L468.8,227.5 L466.4,226 L464.2,226.5 L460.9,224.8 L457.6,223.4Z"/>
<path fill="#fe9929" stroke="#fe9929" stroke-width="0.6" d="M453.4,232.6 L456.7,231 L460.9,231.8 L463.4,235.1 L465.9,239.3 L469.3,243.5 L470.1,248.5 L467.6,251.8 L465.1,251 L461.7,249.3 L457.6,246.8 L453.4,243.5 L451.7,240.2 L454.2,236.8Z"/><path fill="none" stroke="#6b4a2a" stroke-opacity="0.75" stroke-width="0.35" d="M453.4,232.6 L456.7,231 L460.9,231.8 L463.4,235.1 L465.9,239.3 L469.3,243.5 L470.1,248.5 L467.6,251.8 L465.1,251 L461.7,249.3 L457.6,246.8 L453.4,243.5 L451.7,240.2 L454.2,236.8Z"/>
<path fill="#fec44f" stroke="#fec44f" stroke-width="0.6" d="M441.4,243.8 L445,243.2 L449.2,241.8 L449.7,244.3 L446.7,246 L448.4,248.5 L444.2,251 L441.4,251.5 L440.9,247.7Z"/><path fill="none" stroke="#6b4a2a" stroke-opacity="0.75" stroke-width="0.35" d="M441.4,243.8 L445,243.2 L449.2,241.8 L449.7,244.3 L446.7,246 L448.4,248.5 L444.2,251 L441.4,251.5 L440.9,247.7Z"/>
<path fill="#d95f0e" stroke="#d95f0e" stroke-width="0.6" d="M440.4,241 L441.7,238.1 L443,238.5 L441.7,241.8Z"/><path fill="none" stroke="#6b4a2a" stroke-opacity="0.75" stroke-width="0.35" d="M440.4,241 L441.7,238.1 L443,238.5 L441.7,241.8Z"/>
<path fill="#fe9929" stroke="#fe9929" stroke-width="0.6" d="M409.3,193.8 L416.8,193.8 L422.7,194.3 L423.5,191.8 L426.9,190.9 L431,191.8 L435.2,195.1 L440.2,196.8 L444.4,199.3 L443.6,203.5 L440.2,206 L436.1,206.8 L436.1,209.3 L433.6,211 L431,207.6 L426.9,206 L423.5,209.3 L421.9,206.8 L420.2,203.5 L416.8,202.6 L412.7,201 L408.5,200.1 L407.7,196.8Z"/><path fill="none" stroke="#6b4a2a" stroke-opacity="0.75" stroke-width="0.35" d="M409.3,193.8 L416.8,193.8 L422.7,194.3 L423.5,191.8 L426.9,190.9 L431,191.8 L435.2,195.1 L440.2,196.8 L444.4,199.3 L443.6,203.5 L440.2,206 L436.1,206.8 L436.1,209.3 L433.6,211 L431,207.6 L426.9,206 L423.5,209.3 L421.9,206.8 L420.2,203.5 L416.8,202.6 L412.7,201 L408.5,200.1 L407.7,196.8Z"/>
<path fill="#d95f0e" stroke="#d95f0e" stroke-width="0.6" d="M408.5,189.3 L411,185.9 L414.3,183.4 L418.5,182.6 L422.7,184.2 L426,188.4 L426.9,190.9 L423.5,191.8 L422.7,194.3 L416.8,193.8 L411,193.8 L409.3,191.8Z"/><path fill="none" stroke="#6b4a2a" stroke-opacity="0.75" stroke-width="0.35" d="M408.5,189.3 L411,185.9 L414.3,183.4 L418.5,182.6 L422.7,184.2 L426,188.4 L426.9,190.9 L423.5,191.8 L422.7,194.3 L416.8,193.8 L411,193.8 L409.3,191.8Z"/>
<path fill="#fe9929" stroke="#fe9929" stroke-width="0.6" d="M401,185.4 L404.3,184.2 L406.8,185.9 L406,186.8 L401.8,186.8Z"/><path fill="none" stroke="#6b4a2a" stroke-opacity="0.75" stroke-width="0.35" d="M401,185.4 L404.3,184.2 L406.8,185.9 L406,186.8 L401.8,186.8Z"/>
<path fill="#d95f0e" stroke="#d95f0e" stroke-width="0.6" d="M380.1,231.9 L382.6,230.5 L385.4,231.5 L385.9,235.2 L385.1,238.5 L386.8,241 L385.4,244.4 L384.3,248.6 L382.6,245.2 L380.1,241.9 L379.3,236.9Z"/><path fill="none" stroke="#6b4a2a" stroke-opacity="0.75" stroke-width="0.35" d="M380.1,231.9 L382.6,230.5 L385.4,231.5 L385.9,235.2 L385.1,238.5 L386.8,241 L385.4,244.4 L384.3,248.6 L382.6,245.2 L380.1,241.9 L379.3,236.9Z"/>
<path fill="#fe9929" stroke="#fe9929" stroke-width="0.6" d="M334,255.6 L340,251 L342,245 L347,240 L351,235.6 L357,237 L359.6,243 L355,246 L350,249 L345,251 L341,256Z"/><path fill="none" stroke="#6b4a2a" stroke-opacity="0.75" stroke-width="0.35" d="M334,255.6 L340,251 L342,245 L347,240 L351,235.6 L357,237 L359.6,243 L355,246 L350,249 L345,251 L341,256Z"/>
<path fill="#fe9929" stroke="#fe9929" stroke-width="0.6" d="M418.4,246 L426,247.2 L434,246.4 L439,248.4 L441.6,251 L440.4,255.6 L438,252.4 L436.4,251.6 L439,256.4 L441.4,261.4 L444,267 L445.4,270.4 L419,271Z"/><path fill="none" stroke="#6b4a2a" stroke-opacity="0.75" stroke-width="0.35" d="M418.4,246 L426,247.2 L434,246.4 L439,248.4 L441.6,251 L440.4,255.6 L438,252.4 L436.4,251.6 L439,256.4 L441.4,261.4 L444,267 L445.4,270.4 L419,271Z"/>
<path fill="#d95f0e" stroke="#d95f0e" stroke-width="0.6" d="M419,271 L445.4,270.4 L446.4,273 L448,277 L449.4,281 L450,282.4 L447,285 L445,290 L443,296 L440,301 L438,298 L435,301 L430,303 L425,302.4 L421,304 L419,306 L417,303 L415,298 L414,294 L416,290 L418,286 L417.6,280 L419,276Z"/><path fill="none" stroke="#6b4a2a" stroke-opacity="0.75" stroke-width="0.35" d="M419,271 L445.4,270.4 L446.4,273 L448,277 L449.4,281 L450,282.4 L447,285 L445,290 L443,296 L440,301 L438,298 L435,301 L430,303 L425,302.4 L421,304 L419,306 L417,303 L415,298 L414,294 L416,290 L418,286 L417.6,280 L419,276Z"/>
<path fill="#d95f0e" stroke="#d95f0e" stroke-width="0.6" d="M443,296 L448,291 L454,292 L458,295 L462,300 L465,306 L472,308 L474,309 L468,315 L462,318 L456,319 L450,318 L446,315 L443,310 L440,307 L441,301Z"/><path fill="none" stroke="#6b4a2a" stroke-opacity="0.75" stroke-width="0.35" d="M443,296 L448,291 L454,292 L458,295 L462,300 L465,306 L472,308 L474,309 L468,315 L462,318 L456,319 L450,318 L446,315 L443,310 L440,307 L441,301Z"/>
<path fill="#d95f0e" stroke="#d95f0e" stroke-width="0.6" d="M446,315 L450,318 L456,319 L459,318 L458,324 L458,331 L454,340 L450,336 L443,332 L443.6,326 L444.4,320Z"/><path fill="none" stroke="#6b4a2a" stroke-opacity="0.75" stroke-width="0.35" d="M446,315 L450,318 L456,319 L459,318 L458,324 L458,331 L454,340 L450,336 L443,332 L443.6,326 L444.4,320Z"/>
<path fill="#d95f0e" stroke="#d95f0e" stroke-width="0.6" d="M433.6,320 L442,319 L444.4,320 L443.6,326 L443,332 L438,332 L432,333 L432.4,327Z"/><path fill="none" stroke="#6b4a2a" stroke-opacity="0.75" stroke-width="0.35" d="M433.6,320 L442,319 L444.4,320 L443.6,326 L443,332 L438,332 L432,333 L432.4,327Z"/>
<path fill="#fe9929" stroke="#fe9929" stroke-width="0.6" d="M434,333 L441,331 L448,335 L453,340 L454,347 L453,352 L456,357 L451,358.4 L444,359 L440,355 L437,351 L433,350 L431,344 L432,337Z"/><path fill="none" stroke="#6b4a2a" stroke-opacity="0.75" stroke-width="0.35" d="M434,333 L441,331 L448,335 L453,340 L454,347 L453,352 L456,357 L451,358.4 L444,359 L440,355 L437,351 L433,350 L431,344 L432,337Z"/>
<path fill="#fe9929" stroke="#fe9929" stroke-width="0.6" d="M414,364 L419,359 L427,361 L429,357 L430,352 L435,351 L439,355 L440,359 L438,364 L434,367 L429,372 L424,376 L419,375 L414,372Z"/><path fill="none" stroke="#6b4a2a" stroke-opacity="0.75" stroke-width="0.35" d="M414,364 L419,359 L427,361 L429,357 L430,352 L435,351 L439,355 L440,359 L438,364 L434,367 L429,372 L424,376 L419,375 L414,372Z"/>
<path fill="#fec44f" stroke="#fec44f" stroke-width="0.6" d="M444,359.6 L451,358.4 L456,357 L457,366 L454,372 L448,377 L444,381 L443,386 L445,390 L443,394 L439,396 L436,399 L434.4,397 L435,390 L435.6,386 L437,382 L438,377 L436,372 L433,369 L435,367.6 L439,367 L442,370 L443,367 L442,363Z"/><path fill="none" stroke="#6b4a2a" stroke-opacity="0.75" stroke-width="0.35" d="M444,359.6 L451,358.4 L456,357 L457,366 L454,372 L448,377 L444,381 L443,386 L445,390 L443,394 L439,396 L436,399 L434.4,397 L435,390 L435.6,386 L437,382 L438,377 L436,372 L433,369 L435,367.6 L439,367 L442,370 L443,367 L442,363Z"/>
<path fill="#d95f0e" stroke="#d95f0e" stroke-width="0.6" d="M370,298 L374,293 L380,294 L387,294.4 L393,293.6 L395.6,297 L393,303 L390,308 L387,311 L383,312 L379,316 L375,315 L373,311 L369.6,309 L369,303Z"/><path fill="none" stroke="#6b4a2a" stroke-opacity="0.75" stroke-width="0.35" d="M370,298 L374,293 L380,294 L387,294.4 L393,293.6 L395.6,297 L393,303 L390,308 L387,311 L383,312 L379,316 L375,315 L373,311 L369.6,309 L369,303Z"/>
<path fill="#fe9929" stroke="#fe9929" stroke-width="0.6" d="M395.6,297 L396.4,301 L398,303 L395,304 L396,310 L399,316 L399.6,324 L394,323 L388,322.4 L385,322 L382.4,318 L383,313 L387,311 L390,308 L393,303Z"/><path fill="none" stroke="#6b4a2a" stroke-opacity="0.75" stroke-width="0.35" d="M395.6,297 L396.4,301 L398,303 L395,304 L396,310 L399,316 L399.6,324 L394,323 L388,322.4 L385,322 L382.4,318 L383,313 L387,311 L390,308 L393,303Z"/>
<path fill="#d95f0e" stroke="#d95f0e" stroke-width="0.6" d="M366,299 L369.6,297 L370,303 L369.6,309 L369,312 L366.6,312.4 L366,306Z"/><path fill="none" stroke="#6b4a2a" stroke-opacity="0.75" stroke-width="0.35" d="M366,299 L369.6,297 L370,303 L369.6,309 L369,312 L366.6,312.4 L366,306Z"/>
<path fill="#fec44f" stroke="#fec44f" stroke-width="0.6" d="M363,300 L365.6,300 L366,306 L366.6,312.4 L364.4,312.8 L363.6,307Z"/><path fill="none" stroke="#6b4a2a" stroke-opacity="0.75" stroke-width="0.35" d="M363,300 L365.6,300 L366,306 L366.6,312.4 L364.4,312.8 L363.6,307Z"/>
<path fill="#fe9929" stroke="#fe9929" stroke-width="0.6" d="M355.6,301 L362.4,300 L363.6,307 L364.4,312.8 L360,315 L356.4,316 L355,310Z"/><path fill="none" stroke="#6b4a2a" stroke-opacity="0.75" stroke-width="0.35" d="M355.6,301 L362.4,300 L363.6,307 L364.4,312.8 L360,315 L356.4,316 L355,310Z"/>
<path fill="#d95f0e" stroke="#d95f0e" stroke-width="0.6" d="M343,303 L348,301.6 L353,302 L355.6,305 L355,310 L356.4,316 L351,316 L345.6,317 L344.4,312 L342,309Z"/><path fill="none" stroke="#6b4a2a" stroke-opacity="0.75" stroke-width="0.35" d="M343,303 L348,301.6 L353,302 L355.6,305 L355,310 L356.4,316 L351,316 L345.6,317 L344.4,312 L342,309Z"/>
<path fill="#fee391" stroke="#fee391" stroke-width="0.6" d="M327.6,299 L331,297 L337,297 L342,298 L343,303 L342,308 L339.6,307 L337,303 L332,304 L329,302Z"/><path fill="none" stroke="#6b4a2a" stroke-opacity="0.75" stroke-width="0.35" d="M327.6,299 L331,297 L337,297 L342,298 L343,303 L342,308 L339.6,307 L337,303 L332,304 L329,302Z"/>
<path fill="#d95f0e" stroke="#d95f0e" stroke-width="0.6" d="M323.6,293.6 L327,293 L330.4,292.6 L330,293.8 L326,294.4 L323.6,294.6Z"/><path fill="none" stroke="#6b4a2a" stroke-opacity="0.75" stroke-width="0.35" d="M323.6,293.6 L327,293 L330.4,292.6 L330,293.8 L326,294.4 L323.6,294.6Z"/>
<path fill="#fe9929" stroke="#fe9929" stroke-width="0.6" d="M102.4,243.6 L106,243 L108,245 L106.4,249 L108,254 L110,259 L112,264 L113.6,267 L111.6,268.4 L109,264 L107,260 L105.6,256 L103.6,255 L105,252 L103.6,248Z"/><path fill="none" stroke="#6b4a2a" stroke-opacity="0.75" stroke-width="0.35" d="M102.4,243.6 L106,243 L108,245 L106.4,249 L108,254 L110,259 L112,264 L113.6,267 L111.6,268.4 L109,264 L107,260 L105.6,256 L103.6,255 L105,252 L103.6,248Z"/>
<path fill="#fe9929" stroke="#fe9929" stroke-width="0.6" d="M107.6,244.4 L110,246 L114,247 L121,247.6 L126,245 L129,249 L133,251 L137,251 L139.6,256 L142.4,260 L141.6,265 L140,270 L141,275 L144,280 L149,281 L153.6,278 L155.6,274 L159,272.4 L164,272.4 L163,276 L160,279 L158,282 L154,282.4 L153.6,285.6 L150,289 L147,287 L143,287 L139,288 L132,284 L126,281 L121,277 L122,273 L119,268 L116,262 L113,256 L110,250Z"/><path fill="none" stroke="#6b4a2a" stroke-opacity="0.75" stroke-width="0.35" d="M107.6,244.4 L110,246 L114,247 L121,247.6 L126,245 L129,249 L133,251 L137,251 L139.6,256 L142.4,260 L141.6,265 L140,270 L141,275 L144,280 L149,281 L153.6,278 L155.6,274 L159,272.4 L164,272.4 L163,276 L160,279 L158,282 L154,282.4 L153.6,285.6 L150,289 L147,287 L143,287 L139,288 L132,284 L126,281 L121,277 L122,273 L119,268 L116,262 L113,256 L110,250Z"/>
<path fill="#ffffd4" stroke="#ffffd4" stroke-width="0.6" d="M182.4,280.4 L185.6,280 L187,281.6 L184,282Z"/><path fill="none" stroke="#6b4a2a" stroke-opacity="0.75" stroke-width="0.35" d="M182.4,280.4 L185.6,280 L187,281.6 L184,282Z"/>
<path fill="#d95f0e" stroke="#d95f0e" stroke-width="0.6" d="M182,307 L186,303 L192,299 L197,296.4 L198,298 L195,302 L196,307 L199,310 L205,312 L206,318 L205,324 L201,326 L200.4,330 L199.6,335 L197,332 L193,334 L188,330 L183,326 L179,323.6 L181,318 L182.4,312Z"/><path fill="none" stroke="#6b4a2a" stroke-opacity="0.75" stroke-width="0.35" d="M182,307 L186,303 L192,299 L197,296.4 L198,298 L195,302 L196,307 L199,310 L205,312 L206,318 L205,324 L201,326 L200.4,330 L199.6,335 L197,332 L193,334 L188,330 L183,326 L179,323.6 L181,318 L182.4,312Z"/>
<path fill="#fe9929" stroke="#fe9929" stroke-width="0.6" d="M200,326 L205,325 L207,326 L213,325 L212,320 L217,318 L222,316 L224,321 L225,325 L230,323 L236,323 L241,322 L242.4,319 L245,321 L246,327 L249,330 L255,332 L260,336 L269,338 L276,340 L280,343 L281.6,348 L280,355 L276,361 L273,367 L272,375 L271,382 L269,388 L262,391 L256,394 L253,398 L252.4,404 L249,411 L245,417.4 L241,412 L237,409 L239,404 L238.6,399.4 L237.6,394 L233.6,389.4 L228.6,386 L227,380.4 L228,375 L224,371 L222,366 L217,362 L212,359 L209,356 L205,357 L201,358 L196,355 L192,351 L191.6,347 L194,343 L199,341 L200,337 L199,333 L201,329Z"/><path fill="none" stroke="#6b4a2a" stroke-opacity="0.75" stroke-width="0.35" d="M200,326 L205,325 L207,326 L213,325 L212,320 L217,318 L222,316 L224,321 L225,325 L230,323 L236,323 L241,322 L242.4,319 L245,321 L246,327 L249,330 L255,332 L260,336 L269,338 L276,340 L280,343 L281.6,348 L280,355 L276,361 L273,367 L272,375 L271,382 L269,388 L262,391 L256,394 L253,398 L252.4,404 L249,411 L245,417.4 L241,412 L237,409 L239,404 L238.6,399.4 L237.6,394 L233.6,389.4 L228.6,386 L227,380.4 L228,375 L224,371 L222,366 L217,362 L212,359 L209,356 L205,357 L201,358 L196,355 L192,351 L191.6,347 L194,343 L199,341 L200,337 L199,333 L201,329Z"/>
<path fill="#fe9929" stroke="#fe9929" stroke-width="0.6" d="M220.1,383.3 L222.6,380.8 L226.8,381.3 L230.2,383.3 L231.8,387.5 L236,390 L238.5,393.4 L239.4,396.7 L238.5,399.7 L234.3,400 L231.8,398.4 L230.2,394.2 L225.2,390.9 L221,388.4Z"/><path fill="none" stroke="#6b4a2a" stroke-opacity="0.75" stroke-width="0.35" d="M220.1,383.3 L222.6,380.8 L226.8,381.3 L230.2,383.3 L231.8,387.5 L236,390 L238.5,393.4 L239.4,396.7 L238.5,399.7 L234.3,400 L231.8,398.4 L230.2,394.2 L225.2,390.9 L221,388.4Z"/>
<path fill="#fec44f" stroke="#fec44f" stroke-width="0.6" d="M209.3,389.2 L213.5,387 L217.6,387.5 L221,388.4 L225.2,390.9 L230.2,394.2 L231.8,398.4 L234.3,400 L238.5,399.7 L240.2,396.7 L241.5,398 L240.2,402.6 L236.8,406.7 L233.5,410.1 L233.5,415.9 L235.2,420.1 L238.2,424.3 L237.7,428.4 L233.5,431 L229.3,431.8 L227.7,435.1 L228.5,437.6 L224.3,438.5 L226,441 L227.7,444.3 L224.3,446.8 L223.5,450.2 L226,453.5 L226.8,456.8 L224.3,459.4 L222.6,462.7 L224.3,466 L222.6,467.7 L218.5,466 L216,461.9 L213.5,456.8 L211.8,450.2 L210.1,443.5 L209.3,436.8 L208.4,430.1 L206.8,423.4 L205.9,416.8 L206.4,410.1 L207.6,403.4 L208.1,395.9Z"/><path fill="none" stroke="#6b4a2a" stroke-opacity="0.75" stroke-width="0.35" d="M209.3,389.2 L213.5,387 L217.6,387.5 L221,388.4 L225.2,390.9 L230.2,394.2 L231.8,398.4 L234.3,400 L238.5,399.7 L240.2,396.7 L241.5,398 L240.2,402.6 L236.8,406.7 L233.5,410.1 L233.5,415.9 L235.2,420.1 L238.2,424.3 L237.7,428.4 L233.5,431 L229.3,431.8 L227.7,435.1 L228.5,437.6 L224.3,438.5 L226,441 L227.7,444.3 L224.3,446.8 L223.5,450.2 L226,453.5 L226.8,456.8 L224.3,459.4 L222.6,462.7 L224.3,466 L222.6,467.7 L218.5,466 L216,461.9 L213.5,456.8 L211.8,450.2 L210.1,443.5 L209.3,436.8 L208.4,430.1 L206.8,423.4 L205.9,416.8 L206.4,410.1 L207.6,403.4 L208.1,395.9Z"/>
<path fill="#fec44f" stroke="#fec44f" stroke-width="0.6" d="M226,467.7 L229.3,470.2 L232.7,471.9 L235.2,472.2 L233.5,473.2 L229.3,472.7 L226.8,470.2Z"/><path fill="none" stroke="#6b4a2a" stroke-opacity="0.75" stroke-width="0.35" d="M226,467.7 L229.3,470.2 L232.7,471.9 L235.2,472.2 L233.5,473.2 L229.3,472.7 L226.8,470.2Z"/>
<path fill="#ffffd4" stroke="#ffffd4" stroke-width="0.6" d="M201.8,380 L204.8,380 L205.9,385 L208.1,390 L209.3,389.2 L208.1,395.9 L207.6,403.4 L206.4,410.1 L205.9,416.8 L206.8,423.4 L208.4,430.1 L209.3,436.8 L210.1,443.5 L211.8,450.2 L213.5,456.8 L216,461.9 L218.5,466 L222.6,467.7 L226,467.7 L226.8,470.2 L229.3,472.7 L233.5,473.2 L230.2,474.4 L224.3,472.7 L218.5,471 L213.5,467.7 L209.3,461.9 L206.8,455.2 L205.1,450.2 L206.8,446.8 L206.4,441.8 L204.3,435.1 L203.1,428.4 L201.8,421.8 L201.8,413.4 L202.1,405.1 L202.6,396.7 L202.1,388.4Z"/><path fill="none" stroke="#6b4a2a" stroke-opacity="0.75" stroke-width="0.35" d="M201.8,380 L204.8,380 L205.9,385 L208.1,390 L209.3,389.2 L208.1,395.9 L207.6,403.4 L206.4,410.1 L205.9,416.8 L206.8,423.4 L208.4,430.1 L209.3,436.8 L210.1,443.5 L211.8,450.2 L213.5,456.8 L216,461.9 L218.5,466 L222.6,467.7 L226,467.7 L226.8,470.2 L229.3,472.7 L233.5,473.2 L230.2,474.4 L224.3,472.7 L218.5,471 L213.5,467.7 L209.3,461.9 L206.8,455.2 L205.1,450.2 L206.8,446.8 L206.4,441.8 L204.3,435.1 L203.1,428.4 L201.8,421.8 L201.8,413.4 L202.1,405.1 L202.6,396.7 L202.1,388.4Z"/>
<path fill="#ffffd4" stroke="#ffffd4" stroke-width="0.6" d="M201,377 L203,376 L205,380 L206.4,386 L203.6,386 L202.4,382Z"/><path fill="none" stroke="#6b4a2a" stroke-opacity="0.75" stroke-width="0.35" d="M201,377 L203,376 L205,380 L206.4,386 L203.6,386 L202.4,382Z"/>
<path fill="#ffffd4" stroke="#ffffd4" stroke-width="0.6" d="M233.8,410.1 L236.8,408.4 L240.2,410.9 L243.5,414.2 L244.4,417.6 L242.7,420.1 L238.5,420.9 L235.2,419.8 L233.5,415.9Z"/><path fill="none" stroke="#6b4a2a" stroke-opacity="0.75" stroke-width="0.35" d="M233.8,410.1 L236.8,408.4 L240.2,410.9 L243.5,414.2 L244.4,417.6 L242.7,420.1 L238.5,420.9 L235.2,419.8 L233.5,415.9Z"/>
</g>
<!--/MAP-->
<g id="legend">
<rect x="215.5" y="538.5" width="48" height="10" fill="url(#hatchL)" stroke="#bbb" stroke-width="0.8"/>
<line x1="239.5" y1="535.5" x2="239.5" y2="538.5" stroke="#bbb"/>
<text x="239.5" y="531.3" text-anchor="middle">No data</text>
<rect x="283.3" y="538.5" width="58.48" height="10" fill="#ffffd4" stroke="#a9a9a9" stroke-width="0.6"/>
<rect x="341.8" y="538.5" width="58.48" height="10" fill="#fee391" stroke="#a9a9a9" stroke-width="0.6"/>
<rect x="400.3" y="538.5" width="58.48" height="10" fill="#fec44f" stroke="#a9a9a9" stroke-width="0.6"/>
<rect x="458.7" y="538.5" width="58.48" height="10" fill="#fe9929" stroke="#a9a9a9" stroke-width="0.6"/>
<rect x="517.2" y="538.5" width="58.48" height="10" fill="#d95f0e" stroke="#a9a9a9" stroke-width="0.6"/>
<rect x="575.7" y="538.5" width="58.48" height="10" fill="#993404" stroke="#a9a9a9" stroke-width="0.6"/>
<g stroke="#bbb"><line x1="283.3" y1="535" x2="283.3" y2="538.5"/><line x1="341.8" y1="535" x2="341.8" y2="538.5"/><line x1="400.3" y1="535" x2="400.3" y2="538.5"/><line x1="458.7" y1="535" x2="458.7" y2="538.5"/><line x1="517.2" y1="535" x2="517.2" y2="538.5"/><line x1="575.7" y1="535" x2="575.7" y2="538.5"/><line x1="634.2" y1="535" x2="634.2" y2="538.5"/></g>
<g text-anchor="middle"><text x="283.3" y="531.3">0%</text><text x="341.8" y="531.3">5%</text><text x="400.3" y="531.3">10%</text><text x="458.7" y="531.3">25%</text><text x="517.2" y="531.3">50%</text><text x="575.7" y="531.3">75%</text><text x="634.2" y="531.3">100%</text></g>
</g>
</svg>
<div id="src" class="abs"><b>Data source:</b> International Pollutants Elimination Network (IPEN)</div>
<div id="lic" class="abs">OurWorldinData.org/lead-pollution | CC BY</div>
</body></html>
